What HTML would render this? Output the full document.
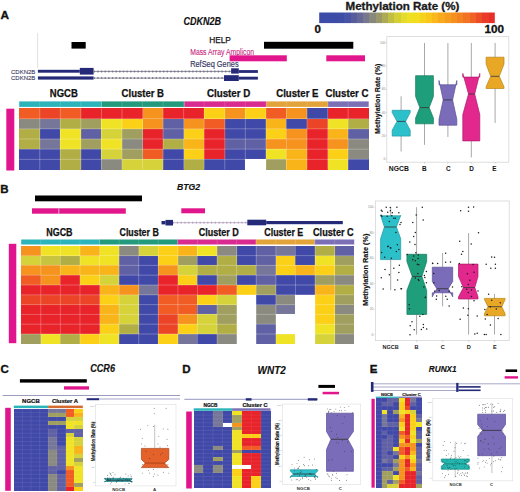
<!DOCTYPE html>
<html><head><meta charset="utf-8"><style>
html,body{margin:0;padding:0;background:#fff;}
svg{display:block;}
text{font-family:"Liberation Sans", sans-serif;}
</style></head><body>
<svg width="520" height="492" viewBox="0 0 520 492">
<rect width="520" height="492" fill="#fff"/>
<text x="0.5" y="19" font-size="11.8" font-weight="bold" font-style="normal" fill="#111" text-anchor="start" stroke="#111" stroke-width="0.35">A</text>
<text x="183.4" y="25.2" font-size="10.3" font-weight="bold" font-style="italic" fill="#111" text-anchor="start" textLength="37.6" lengthAdjust="spacingAndGlyphs" stroke="#111" stroke-width="0.15">CDKN2B</text>
<text x="345.5" y="9.5" font-size="10.2" font-weight="bold" font-style="normal" fill="#1a1a1a" text-anchor="start" textLength="113.8" lengthAdjust="spacingAndGlyphs" stroke="#1a1a1a" stroke-width="0.3">Methylation Rate (%)</text>
<defs><linearGradient id="cbar" x1="0" x2="1" y1="0" y2="0"><stop offset="0.0000" stop-color="#3b4ca8"/><stop offset="0.0357" stop-color="#3b4ca8"/><stop offset="0.0357" stop-color="#3c4da7"/><stop offset="0.0714" stop-color="#3c4da7"/><stop offset="0.0714" stop-color="#3d4da7"/><stop offset="0.1071" stop-color="#3d4da7"/><stop offset="0.1071" stop-color="#3e4ea6"/><stop offset="0.1429" stop-color="#3e4ea6"/><stop offset="0.1429" stop-color="#4753a3"/><stop offset="0.1786" stop-color="#4753a3"/><stop offset="0.1786" stop-color="#575c9d"/><stop offset="0.2143" stop-color="#575c9d"/><stop offset="0.2143" stop-color="#666898"/><stop offset="0.2500" stop-color="#666898"/><stop offset="0.2500" stop-color="#77778d"/><stop offset="0.2857" stop-color="#77778d"/><stop offset="0.2857" stop-color="#88887c"/><stop offset="0.3214" stop-color="#88887c"/><stop offset="0.3214" stop-color="#9a9868"/><stop offset="0.3571" stop-color="#9a9868"/><stop offset="0.3571" stop-color="#adaa55"/><stop offset="0.3929" stop-color="#adaa55"/><stop offset="0.3929" stop-color="#c1be45"/><stop offset="0.4286" stop-color="#c1be45"/><stop offset="0.4286" stop-color="#d4ce37"/><stop offset="0.4643" stop-color="#d4ce37"/><stop offset="0.4643" stop-color="#e4db2d"/><stop offset="0.5000" stop-color="#e4db2d"/><stop offset="0.5000" stop-color="#eee025"/><stop offset="0.5357" stop-color="#eee025"/><stop offset="0.5357" stop-color="#f3dd1f"/><stop offset="0.5714" stop-color="#f3dd1f"/><stop offset="0.5714" stop-color="#f7d21c"/><stop offset="0.6071" stop-color="#f7d21c"/><stop offset="0.6071" stop-color="#fac61a"/><stop offset="0.6429" stop-color="#fac61a"/><stop offset="0.6429" stop-color="#fab81b"/><stop offset="0.6786" stop-color="#fab81b"/><stop offset="0.6786" stop-color="#f9a91c"/><stop offset="0.7143" stop-color="#f9a91c"/><stop offset="0.7143" stop-color="#f79d1e"/><stop offset="0.7500" stop-color="#f79d1e"/><stop offset="0.7500" stop-color="#f5901f"/><stop offset="0.7857" stop-color="#f5901f"/><stop offset="0.7857" stop-color="#f38221"/><stop offset="0.8214" stop-color="#f38221"/><stop offset="0.8214" stop-color="#f17323"/><stop offset="0.8571" stop-color="#f17323"/><stop offset="0.8571" stop-color="#ef6125"/><stop offset="0.8929" stop-color="#ef6125"/><stop offset="0.8929" stop-color="#ec4d27"/><stop offset="0.9286" stop-color="#ec4d27"/><stop offset="0.9286" stop-color="#ea3a28"/><stop offset="0.9643" stop-color="#ea3a28"/><stop offset="0.9643" stop-color="#e92d29"/><stop offset="1.0000" stop-color="#e92d29"/></linearGradient></defs>
<rect x="319.2" y="12.5" width="175.6" height="10.6" fill="url(#cbar)"/>
<text x="314.6" y="33.4" font-size="10.4" font-weight="bold" font-style="normal" fill="#111" text-anchor="start" textLength="6.4" lengthAdjust="spacingAndGlyphs" stroke="#111" stroke-width="0.3">0</text>
<text x="484.6" y="33.4" font-size="10.4" font-weight="bold" font-style="normal" fill="#111" text-anchor="start" textLength="19.5" lengthAdjust="spacingAndGlyphs" stroke="#111" stroke-width="0.3">100</text>
<line x1="37.6" y1="33" x2="37.6" y2="68" stroke="#d8d8d8" stroke-width="0.8"/>
<rect x="71.50" y="42.00" width="14.20" height="6.60" fill="#000"/>
<text x="209.2" y="42.6" font-size="8.9" font-weight="normal" font-style="normal" fill="#111" text-anchor="start" textLength="21.6" lengthAdjust="spacingAndGlyphs" stroke="#111" stroke-width="0.25">HELP</text>
<rect x="264.00" y="41.80" width="89.30" height="6.90" fill="#000"/>
<text x="190.2" y="54.6" font-size="8.4" font-weight="normal" font-style="normal" fill="#c8287f" text-anchor="start" textLength="63.8" lengthAdjust="spacingAndGlyphs" stroke="#c8287f" stroke-width="0.12">Mass Array Amplicon</text>
<rect x="229.60" y="55.30" width="57.20" height="6.00" fill="#e2168c"/>
<rect x="326.30" y="55.30" width="38.70" height="6.00" fill="#e2168c"/>
<text x="190.2" y="67.4" font-size="8.6" font-weight="normal" font-style="normal" fill="#34345e" text-anchor="start" textLength="48.4" lengthAdjust="spacingAndGlyphs" stroke="#34345e" stroke-width="0.15">RefSeq Genes</text>
<text x="11" y="73.7" font-size="6.0" font-weight="normal" font-style="normal" fill="#3a3a62" text-anchor="start" textLength="24.3" lengthAdjust="spacingAndGlyphs" stroke="#3a3a62" stroke-width="0.12">CDKN2B</text>
<text x="11" y="80.1" font-size="6.0" font-weight="normal" font-style="normal" fill="#3a3a62" text-anchor="start" textLength="24.3" lengthAdjust="spacingAndGlyphs" stroke="#3a3a62" stroke-width="0.12">CDKN2B</text>
<rect x="37.90" y="69.80" width="41.90" height="2.90" fill="#252a78"/>
<rect x="79.80" y="67.90" width="13.80" height="6.70" fill="#252a78"/>
<line x1="93.6" y1="71.4" x2="231.1" y2="71.4" stroke="#8c8c9c" stroke-width="1.0"/>
<line x1="93.6" y1="71.4" x2="231.1" y2="71.4" stroke="#666678" stroke-width="2.0" stroke-dasharray="1.4,2.25" stroke-opacity="0.7"/>
<rect x="231.10" y="68.30" width="7.70" height="5.30" fill="#252a78"/>
<rect x="238.80" y="70.10" width="19.10" height="2.80" fill="#252a78"/>
<rect x="37.90" y="76.40" width="55.70" height="3.20" fill="#252a78"/>
<line x1="93.6" y1="78.1" x2="224" y2="78.1" stroke="#8c8c9c" stroke-width="1.0"/>
<line x1="93.6" y1="78.1" x2="224" y2="78.1" stroke="#666678" stroke-width="2.0" stroke-dasharray="1.4,2.25" stroke-opacity="0.7"/>
<rect x="224.00" y="75.20" width="14.80" height="5.80" fill="#252a78"/>
<rect x="238.80" y="76.70" width="19.10" height="2.90" fill="#252a78"/>
<text x="49.8" y="97.1" font-size="10" font-weight="bold" font-style="normal" fill="#111" text-anchor="start" textLength="28" lengthAdjust="spacingAndGlyphs" stroke="#111" stroke-width="0.25">NGCB</text>
<text x="121.6" y="97.1" font-size="10" font-weight="bold" font-style="normal" fill="#111" text-anchor="start" textLength="42.4" lengthAdjust="spacingAndGlyphs" stroke="#111" stroke-width="0.25">Cluster B</text>
<text x="206.9" y="97.1" font-size="10" font-weight="bold" font-style="normal" fill="#111" text-anchor="start" textLength="43.5" lengthAdjust="spacingAndGlyphs" stroke="#111" stroke-width="0.25">Cluster D</text>
<text x="276.2" y="97.1" font-size="10" font-weight="bold" font-style="normal" fill="#111" text-anchor="start" textLength="42.3" lengthAdjust="spacingAndGlyphs" stroke="#111" stroke-width="0.25">Cluster E</text>
<text x="325.4" y="97.1" font-size="10" font-weight="bold" font-style="normal" fill="#111" text-anchor="start" textLength="43.1" lengthAdjust="spacingAndGlyphs" stroke="#111" stroke-width="0.25">Cluster C</text>
<rect x="19.20" y="101.40" width="82.40" height="5.50" fill="#2bb4ba"/>
<rect x="101.60" y="101.40" width="82.90" height="5.50" fill="#229a7b"/>
<rect x="184.50" y="101.40" width="82.00" height="5.50" fill="#d92a8f"/>
<rect x="266.50" y="101.40" width="61.60" height="5.50" fill="#e2a43a"/>
<rect x="328.10" y="101.40" width="40.60" height="5.50" fill="#7b6fb6"/>
<line x1="39.76" y1="101.4" x2="39.76" y2="106.9" stroke="rgba(255,255,255,0.3)" stroke-width="0.5"/>
<line x1="60.32" y1="101.4" x2="60.32" y2="106.9" stroke="rgba(255,255,255,0.3)" stroke-width="0.5"/>
<line x1="80.88" y1="101.4" x2="80.88" y2="106.9" stroke="rgba(255,255,255,0.3)" stroke-width="0.5"/>
<line x1="101.44" y1="101.4" x2="101.44" y2="106.9" stroke="rgba(255,255,255,0.3)" stroke-width="0.5"/>
<line x1="121.99" y1="101.4" x2="121.99" y2="106.9" stroke="rgba(255,255,255,0.3)" stroke-width="0.5"/>
<line x1="142.55" y1="101.4" x2="142.55" y2="106.9" stroke="rgba(255,255,255,0.3)" stroke-width="0.5"/>
<line x1="163.11" y1="101.4" x2="163.11" y2="106.9" stroke="rgba(255,255,255,0.3)" stroke-width="0.5"/>
<line x1="183.67" y1="101.4" x2="183.67" y2="106.9" stroke="rgba(255,255,255,0.3)" stroke-width="0.5"/>
<line x1="204.23" y1="101.4" x2="204.23" y2="106.9" stroke="rgba(255,255,255,0.3)" stroke-width="0.5"/>
<line x1="224.79" y1="101.4" x2="224.79" y2="106.9" stroke="rgba(255,255,255,0.3)" stroke-width="0.5"/>
<line x1="245.35" y1="101.4" x2="245.35" y2="106.9" stroke="rgba(255,255,255,0.3)" stroke-width="0.5"/>
<line x1="265.91" y1="101.4" x2="265.91" y2="106.9" stroke="rgba(255,255,255,0.3)" stroke-width="0.5"/>
<line x1="286.46" y1="101.4" x2="286.46" y2="106.9" stroke="rgba(255,255,255,0.3)" stroke-width="0.5"/>
<line x1="307.02" y1="101.4" x2="307.02" y2="106.9" stroke="rgba(255,255,255,0.3)" stroke-width="0.5"/>
<line x1="327.58" y1="101.4" x2="327.58" y2="106.9" stroke="rgba(255,255,255,0.3)" stroke-width="0.5"/>
<line x1="348.14" y1="101.4" x2="348.14" y2="106.9" stroke="rgba(255,255,255,0.3)" stroke-width="0.5"/>
<rect x="6.30" y="108.70" width="8.00" height="61.80" fill="#e0148c"/>
<rect x="19.20" y="108.40" width="20.56" height="10.20" fill="#f15c24" shape-rendering="crispEdges"/>
<rect x="39.76" y="108.40" width="20.56" height="10.20" fill="#ec4427" shape-rendering="crispEdges"/>
<rect x="60.32" y="108.40" width="20.56" height="10.20" fill="#f15c24" shape-rendering="crispEdges"/>
<rect x="80.88" y="108.40" width="20.56" height="10.20" fill="#e8232a" shape-rendering="crispEdges"/>
<rect x="101.44" y="108.40" width="20.56" height="10.20" fill="#e8232a" shape-rendering="crispEdges"/>
<rect x="121.99" y="108.40" width="20.56" height="10.20" fill="#e8232a" shape-rendering="crispEdges"/>
<rect x="142.55" y="108.40" width="20.56" height="10.20" fill="#f6921e" shape-rendering="crispEdges"/>
<rect x="163.11" y="108.40" width="20.56" height="10.20" fill="#e8232a" shape-rendering="crispEdges"/>
<rect x="183.67" y="108.40" width="20.56" height="10.20" fill="#e8232a" shape-rendering="crispEdges"/>
<rect x="204.23" y="108.40" width="20.56" height="10.20" fill="#fbd016" shape-rendering="crispEdges"/>
<rect x="224.79" y="108.40" width="20.56" height="10.20" fill="#f6921e" shape-rendering="crispEdges"/>
<rect x="245.35" y="108.40" width="20.56" height="10.20" fill="#fbd016" shape-rendering="crispEdges"/>
<rect x="265.91" y="108.40" width="20.56" height="10.20" fill="#f15c24" shape-rendering="crispEdges"/>
<rect x="286.46" y="108.40" width="20.56" height="10.20" fill="#f6921e" shape-rendering="crispEdges"/>
<rect x="307.02" y="108.40" width="20.56" height="10.20" fill="#4149a8" shape-rendering="crispEdges"/>
<rect x="327.58" y="108.40" width="20.56" height="10.20" fill="#e8232a" shape-rendering="crispEdges"/>
<rect x="348.14" y="108.40" width="20.56" height="10.20" fill="#e8232a" shape-rendering="crispEdges"/>
<rect x="19.20" y="118.60" width="20.56" height="10.20" fill="#8a8a80" shape-rendering="crispEdges"/>
<rect x="39.76" y="118.60" width="20.56" height="10.20" fill="#76769a" shape-rendering="crispEdges"/>
<rect x="60.32" y="118.60" width="20.56" height="10.20" fill="#b2ae46" shape-rendering="crispEdges"/>
<rect x="80.88" y="118.60" width="20.56" height="10.20" fill="#a09f60" shape-rendering="crispEdges"/>
<rect x="101.44" y="118.60" width="20.56" height="10.20" fill="#f0e326" shape-rendering="crispEdges"/>
<rect x="121.99" y="118.60" width="20.56" height="10.20" fill="#fbd016" shape-rendering="crispEdges"/>
<rect x="142.55" y="118.60" width="20.56" height="10.20" fill="#f6921e" shape-rendering="crispEdges"/>
<rect x="163.11" y="118.60" width="20.56" height="10.20" fill="#6060a4" shape-rendering="crispEdges"/>
<rect x="183.67" y="118.60" width="20.56" height="10.20" fill="#f6921e" shape-rendering="crispEdges"/>
<rect x="204.23" y="118.60" width="20.56" height="10.20" fill="#f15c24" shape-rendering="crispEdges"/>
<rect x="224.79" y="118.60" width="20.56" height="10.20" fill="#4149a8" shape-rendering="crispEdges"/>
<rect x="245.35" y="118.60" width="20.56" height="10.20" fill="#4149a8" shape-rendering="crispEdges"/>
<rect x="265.91" y="118.60" width="20.56" height="10.20" fill="#f9b41a" shape-rendering="crispEdges"/>
<rect x="286.46" y="118.60" width="20.56" height="10.20" fill="#4149a8" shape-rendering="crispEdges"/>
<rect x="307.02" y="118.60" width="20.56" height="10.20" fill="#ec4427" shape-rendering="crispEdges"/>
<rect x="327.58" y="118.60" width="20.56" height="10.20" fill="#f0e326" shape-rendering="crispEdges"/>
<rect x="348.14" y="118.60" width="20.56" height="10.20" fill="#b2ae46" shape-rendering="crispEdges"/>
<rect x="19.20" y="128.80" width="20.56" height="10.20" fill="#b2ae46" shape-rendering="crispEdges"/>
<rect x="39.76" y="128.80" width="20.56" height="10.20" fill="#4149a8" shape-rendering="crispEdges"/>
<rect x="60.32" y="128.80" width="20.56" height="10.20" fill="#f0e326" shape-rendering="crispEdges"/>
<rect x="80.88" y="128.80" width="20.56" height="10.20" fill="#6060a4" shape-rendering="crispEdges"/>
<rect x="101.44" y="128.80" width="20.56" height="10.20" fill="#d6d23a" shape-rendering="crispEdges"/>
<rect x="121.99" y="128.80" width="20.56" height="10.20" fill="#a09f60" shape-rendering="crispEdges"/>
<rect x="142.55" y="128.80" width="20.56" height="10.20" fill="#e8232a" shape-rendering="crispEdges"/>
<rect x="163.11" y="128.80" width="20.56" height="10.20" fill="#6060a4" shape-rendering="crispEdges"/>
<rect x="183.67" y="128.80" width="20.56" height="10.20" fill="#fbd016" shape-rendering="crispEdges"/>
<rect x="204.23" y="128.80" width="20.56" height="10.20" fill="#e8232a" shape-rendering="crispEdges"/>
<rect x="224.79" y="128.80" width="20.56" height="10.20" fill="#4149a8" shape-rendering="crispEdges"/>
<rect x="245.35" y="128.80" width="20.56" height="10.20" fill="#4149a8" shape-rendering="crispEdges"/>
<rect x="265.91" y="128.80" width="20.56" height="10.20" fill="#fbd016" shape-rendering="crispEdges"/>
<rect x="286.46" y="128.80" width="20.56" height="10.20" fill="#f6921e" shape-rendering="crispEdges"/>
<rect x="307.02" y="128.80" width="20.56" height="10.20" fill="#e8232a" shape-rendering="crispEdges"/>
<rect x="327.58" y="128.80" width="20.56" height="10.20" fill="#f9b41a" shape-rendering="crispEdges"/>
<rect x="348.14" y="128.80" width="20.56" height="10.20" fill="#6060a4" shape-rendering="crispEdges"/>
<rect x="19.20" y="139.00" width="20.56" height="10.20" fill="#b2ae46" shape-rendering="crispEdges"/>
<rect x="39.76" y="139.00" width="20.56" height="10.20" fill="#76769a" shape-rendering="crispEdges"/>
<rect x="60.32" y="139.00" width="20.56" height="10.20" fill="#f0e326" shape-rendering="crispEdges"/>
<rect x="80.88" y="139.00" width="20.56" height="10.20" fill="#a09f60" shape-rendering="crispEdges"/>
<rect x="101.44" y="139.00" width="20.56" height="10.20" fill="#f0e326" shape-rendering="crispEdges"/>
<rect x="121.99" y="139.00" width="20.56" height="10.20" fill="#8a8a80" shape-rendering="crispEdges"/>
<rect x="142.55" y="139.00" width="20.56" height="10.20" fill="#e8232a" shape-rendering="crispEdges"/>
<rect x="163.11" y="139.00" width="20.56" height="10.20" fill="#b2ae46" shape-rendering="crispEdges"/>
<rect x="183.67" y="139.00" width="20.56" height="10.20" fill="#f9b41a" shape-rendering="crispEdges"/>
<rect x="204.23" y="139.00" width="20.56" height="10.20" fill="#e8232a" shape-rendering="crispEdges"/>
<rect x="224.79" y="139.00" width="20.56" height="10.20" fill="#6060a4" shape-rendering="crispEdges"/>
<rect x="245.35" y="139.00" width="20.56" height="10.20" fill="#6060a4" shape-rendering="crispEdges"/>
<rect x="265.91" y="139.00" width="20.56" height="10.20" fill="#f6921e" shape-rendering="crispEdges"/>
<rect x="286.46" y="139.00" width="20.56" height="10.20" fill="#f6921e" shape-rendering="crispEdges"/>
<rect x="307.02" y="139.00" width="20.56" height="10.20" fill="#e8232a" shape-rendering="crispEdges"/>
<rect x="327.58" y="139.00" width="20.56" height="10.20" fill="#f6921e" shape-rendering="crispEdges"/>
<rect x="348.14" y="139.00" width="20.56" height="10.20" fill="#8a8a80" shape-rendering="crispEdges"/>
<rect x="19.20" y="149.20" width="20.56" height="10.20" fill="#4149a8" shape-rendering="crispEdges"/>
<rect x="39.76" y="149.20" width="20.56" height="10.20" fill="#4149a8" shape-rendering="crispEdges"/>
<rect x="60.32" y="149.20" width="20.56" height="10.20" fill="#b2ae46" shape-rendering="crispEdges"/>
<rect x="80.88" y="149.20" width="20.56" height="10.20" fill="#4149a8" shape-rendering="crispEdges"/>
<rect x="101.44" y="149.20" width="20.56" height="10.20" fill="#d6d23a" shape-rendering="crispEdges"/>
<rect x="121.99" y="149.20" width="20.56" height="10.20" fill="#a09f60" shape-rendering="crispEdges"/>
<rect x="142.55" y="149.20" width="20.56" height="10.20" fill="#f15c24" shape-rendering="crispEdges"/>
<rect x="163.11" y="149.20" width="20.56" height="10.20" fill="#4149a8" shape-rendering="crispEdges"/>
<rect x="183.67" y="149.20" width="20.56" height="10.20" fill="#fbd016" shape-rendering="crispEdges"/>
<rect x="204.23" y="149.20" width="20.56" height="10.20" fill="#e8232a" shape-rendering="crispEdges"/>
<rect x="224.79" y="149.20" width="20.56" height="10.20" fill="#4149a8" shape-rendering="crispEdges"/>
<rect x="245.35" y="149.20" width="20.56" height="10.20" fill="#4149a8" shape-rendering="crispEdges"/>
<rect x="265.91" y="149.20" width="20.56" height="10.20" fill="#f0e326" shape-rendering="crispEdges"/>
<rect x="286.46" y="149.20" width="20.56" height="10.20" fill="#f9b41a" shape-rendering="crispEdges"/>
<rect x="307.02" y="149.20" width="20.56" height="10.20" fill="#e8232a" shape-rendering="crispEdges"/>
<rect x="327.58" y="149.20" width="20.56" height="10.20" fill="#fbd016" shape-rendering="crispEdges"/>
<rect x="348.14" y="149.20" width="20.56" height="10.20" fill="#8a8a80" shape-rendering="crispEdges"/>
<rect x="19.20" y="159.40" width="20.56" height="10.20" fill="#4149a8" shape-rendering="crispEdges"/>
<rect x="39.76" y="159.40" width="20.56" height="10.20" fill="#4149a8" shape-rendering="crispEdges"/>
<rect x="60.32" y="159.40" width="20.56" height="10.20" fill="#b2ae46" shape-rendering="crispEdges"/>
<rect x="80.88" y="159.40" width="20.56" height="10.20" fill="#4149a8" shape-rendering="crispEdges"/>
<rect x="101.44" y="159.40" width="20.56" height="10.20" fill="#8a8a80" shape-rendering="crispEdges"/>
<rect x="121.99" y="159.40" width="20.56" height="10.20" fill="#d6d23a" shape-rendering="crispEdges"/>
<rect x="142.55" y="159.40" width="20.56" height="10.20" fill="#d6d23a" shape-rendering="crispEdges"/>
<rect x="163.11" y="159.40" width="20.56" height="10.20" fill="#4149a8" shape-rendering="crispEdges"/>
<rect x="183.67" y="159.40" width="20.56" height="10.20" fill="#b2ae46" shape-rendering="crispEdges"/>
<rect x="204.23" y="159.40" width="20.56" height="10.20" fill="#4149a8" shape-rendering="crispEdges"/>
<rect x="224.79" y="159.40" width="20.56" height="10.20" fill="#4149a8" shape-rendering="crispEdges"/>
<rect x="245.35" y="159.40" width="20.56" height="10.20" fill="#ffffff" shape-rendering="crispEdges"/>
<rect x="265.91" y="159.40" width="20.56" height="10.20" fill="#a09f60" shape-rendering="crispEdges"/>
<rect x="286.46" y="159.40" width="20.56" height="10.20" fill="#f9b41a" shape-rendering="crispEdges"/>
<rect x="307.02" y="159.40" width="20.56" height="10.20" fill="#e8232a" shape-rendering="crispEdges"/>
<rect x="327.58" y="159.40" width="20.56" height="10.20" fill="#f0e326" shape-rendering="crispEdges"/>
<rect x="348.14" y="159.40" width="20.56" height="10.20" fill="#4149a8" shape-rendering="crispEdges"/>
<line x1="39.76" y1="108.4" x2="39.76" y2="169.6" stroke="rgba(255,255,255,0.45)" stroke-width="0.6"/>
<line x1="60.32" y1="108.4" x2="60.32" y2="169.6" stroke="rgba(255,255,255,0.45)" stroke-width="0.6"/>
<line x1="80.88" y1="108.4" x2="80.88" y2="169.6" stroke="rgba(255,255,255,0.45)" stroke-width="0.6"/>
<line x1="101.44" y1="108.4" x2="101.44" y2="169.6" stroke="rgba(255,255,255,0.45)" stroke-width="0.6"/>
<line x1="121.99" y1="108.4" x2="121.99" y2="169.6" stroke="rgba(255,255,255,0.45)" stroke-width="0.6"/>
<line x1="142.55" y1="108.4" x2="142.55" y2="169.6" stroke="rgba(255,255,255,0.45)" stroke-width="0.6"/>
<line x1="163.11" y1="108.4" x2="163.11" y2="169.6" stroke="rgba(255,255,255,0.45)" stroke-width="0.6"/>
<line x1="183.67" y1="108.4" x2="183.67" y2="169.6" stroke="rgba(255,255,255,0.45)" stroke-width="0.6"/>
<line x1="204.23" y1="108.4" x2="204.23" y2="169.6" stroke="rgba(255,255,255,0.45)" stroke-width="0.6"/>
<line x1="224.79" y1="108.4" x2="224.79" y2="169.6" stroke="rgba(255,255,255,0.45)" stroke-width="0.6"/>
<line x1="245.35" y1="108.4" x2="245.35" y2="169.6" stroke="rgba(255,255,255,0.45)" stroke-width="0.6"/>
<line x1="265.91" y1="108.4" x2="265.91" y2="169.6" stroke="rgba(255,255,255,0.45)" stroke-width="0.6"/>
<line x1="286.46" y1="108.4" x2="286.46" y2="169.6" stroke="rgba(255,255,255,0.45)" stroke-width="0.6"/>
<line x1="307.02" y1="108.4" x2="307.02" y2="169.6" stroke="rgba(255,255,255,0.45)" stroke-width="0.6"/>
<line x1="327.58" y1="108.4" x2="327.58" y2="169.6" stroke="rgba(255,255,255,0.45)" stroke-width="0.6"/>
<line x1="348.14" y1="108.4" x2="348.14" y2="169.6" stroke="rgba(255,255,255,0.45)" stroke-width="0.6"/>
<line x1="19.2" y1="118.6" x2="368.7" y2="118.6" stroke="rgba(255,255,255,0.45)" stroke-width="0.6"/>
<line x1="19.2" y1="128.8" x2="368.7" y2="128.8" stroke="rgba(255,255,255,0.45)" stroke-width="0.6"/>
<line x1="19.2" y1="139.0" x2="368.7" y2="139.0" stroke="rgba(255,255,255,0.45)" stroke-width="0.6"/>
<line x1="19.2" y1="149.2" x2="368.7" y2="149.2" stroke="rgba(255,255,255,0.45)" stroke-width="0.6"/>
<line x1="19.2" y1="159.4" x2="368.7" y2="159.4" stroke="rgba(255,255,255,0.45)" stroke-width="0.6"/>
<rect x="386.8" y="36.6" width="122" height="125.6" fill="none" stroke="#d6d6d6" stroke-width="0.8"/>
<text x="385.3" y="160.1" font-size="3.2" font-weight="normal" font-style="normal" fill="#888" text-anchor="end">0</text>
<line x1="385.6" y1="159.0" x2="386.8" y2="159.0" stroke="#bbb" stroke-width="0.5"/>
<text x="385.3" y="136.85999999999999" font-size="3.2" font-weight="normal" font-style="normal" fill="#888" text-anchor="end">20</text>
<line x1="385.6" y1="135.76" x2="386.8" y2="135.76" stroke="#bbb" stroke-width="0.5"/>
<text x="385.3" y="113.62" font-size="3.2" font-weight="normal" font-style="normal" fill="#888" text-anchor="end">40</text>
<line x1="385.6" y1="112.52000000000001" x2="386.8" y2="112.52000000000001" stroke="#bbb" stroke-width="0.5"/>
<text x="385.3" y="90.38" font-size="3.2" font-weight="normal" font-style="normal" fill="#888" text-anchor="end">60</text>
<line x1="385.6" y1="89.28" x2="386.8" y2="89.28" stroke="#bbb" stroke-width="0.5"/>
<text x="385.3" y="67.14" font-size="3.2" font-weight="normal" font-style="normal" fill="#888" text-anchor="end">80</text>
<line x1="385.6" y1="66.04" x2="386.8" y2="66.04" stroke="#bbb" stroke-width="0.5"/>
<text x="385.3" y="43.90000000000001" font-size="3.2" font-weight="normal" font-style="normal" fill="#888" text-anchor="end">100</text>
<line x1="385.6" y1="42.80000000000001" x2="386.8" y2="42.80000000000001" stroke="#bbb" stroke-width="0.5"/>
<text x="380.4" y="134.0" font-size="6.8" font-weight="bold" font-style="normal" fill="#111" text-anchor="start" textLength="70.5" lengthAdjust="spacingAndGlyphs" transform="rotate(-90 380.4 134.0)" stroke="#111" stroke-width="0.15">Methylation Rate (%)</text>
<text x="398.8" y="170.6" font-size="6.4" font-weight="bold" font-style="normal" fill="#111" text-anchor="middle" textLength="20" lengthAdjust="spacingAndGlyphs">NGCB</text>
<text x="424.4" y="170.6" font-size="6.4" font-weight="bold" font-style="normal" fill="#111" text-anchor="middle">B</text>
<text x="448.3" y="170.6" font-size="6.4" font-weight="bold" font-style="normal" fill="#111" text-anchor="middle">C</text>
<text x="471.6" y="170.6" font-size="6.4" font-weight="bold" font-style="normal" fill="#111" text-anchor="middle">D</text>
<text x="494.5" y="170.6" font-size="6.4" font-weight="bold" font-style="normal" fill="#111" text-anchor="middle">E</text>
<line x1="401.1" y1="162.2" x2="401.1" y2="163.6" stroke="#aaa" stroke-width="0.5"/>
<line x1="424.5" y1="162.2" x2="424.5" y2="163.6" stroke="#aaa" stroke-width="0.5"/>
<line x1="447.9" y1="162.2" x2="447.9" y2="163.6" stroke="#aaa" stroke-width="0.5"/>
<line x1="471.3" y1="162.2" x2="471.3" y2="163.6" stroke="#aaa" stroke-width="0.5"/>
<line x1="495.1" y1="162.2" x2="495.1" y2="163.6" stroke="#aaa" stroke-width="0.5"/>
<line x1="401.1" y1="96.3" x2="401.1" y2="151.5" stroke="#a8a8a8" stroke-width="1"/>
<line x1="424.5" y1="43" x2="424.5" y2="144.8" stroke="#a8a8a8" stroke-width="1"/>
<line x1="447.9" y1="43" x2="447.9" y2="137" stroke="#a8a8a8" stroke-width="1"/>
<line x1="471.3" y1="43" x2="471.3" y2="157.4" stroke="#a8a8a8" stroke-width="1"/>
<line x1="495.1" y1="43" x2="495.1" y2="123" stroke="#a8a8a8" stroke-width="1"/>
<polygon points="392.20,110.30 392.20,112.60 397.00,121.40 392.20,130.20 392.20,136.10 410.20,136.10 410.20,130.20 405.60,121.40 410.20,112.60 410.20,110.30" fill="#2cc0ca" stroke="#1f9aa3" stroke-width="0.7"/>
<line x1="397.0" y1="121.4" x2="405.6" y2="121.4" stroke="#333" stroke-width="0.8"/>
<polygon points="415.60,75.70 415.60,96.50 419.80,107.60 415.60,118.00 415.60,123.80 433.40,123.80 433.40,118.00 429.20,107.60 433.40,96.50 433.40,75.70" fill="#1f9e7c" stroke="#167a5e" stroke-width="0.7"/>
<line x1="419.8" y1="107.6" x2="429.2" y2="107.6" stroke="#333" stroke-width="0.8"/>
<polygon points="439.00,84.80 439.00,80.50 443.20,99.90 439.00,119.30 439.00,125.20 456.80,125.20 456.80,119.30 452.60,99.90 456.80,80.50 456.80,84.80" fill="#7a6cb9" stroke="#5b4f98" stroke-width="0.7"/>
<line x1="443.2" y1="99.9" x2="452.6" y2="99.9" stroke="#333" stroke-width="0.8"/>
<polygon points="462.80,77.10 462.80,73.40 468.50,94.00 462.80,114.60 462.80,140.90 479.80,140.90 479.80,114.60 474.70,94.00 479.80,73.40 479.80,77.10" fill="#e2278d" stroke="#b01a6c" stroke-width="0.7"/>
<line x1="468.5" y1="94.0" x2="474.7" y2="94.0" stroke="#333" stroke-width="0.8"/>
<polygon points="486.10,57.20 486.10,64.00 490.70,76.30 486.10,86.80 486.10,88.50 504.00,88.50 504.00,86.80 499.30,76.30 504.00,64.00 504.00,57.20" fill="#e9a726" stroke="#b88414" stroke-width="0.7"/>
<line x1="490.7" y1="76.3" x2="499.3" y2="76.3" stroke="#333" stroke-width="0.8"/>
<text x="0.3" y="192.5" font-size="11.5" font-weight="bold" font-style="normal" fill="#111" text-anchor="start" stroke="#111" stroke-width="0.35">B</text>
<text x="177.0" y="189.9" font-size="9.6" font-weight="bold" font-style="italic" fill="#111" text-anchor="start" textLength="23.2" lengthAdjust="spacingAndGlyphs" stroke="#111" stroke-width="0.15">BTG2</text>
<rect x="35.00" y="195.50" width="107.00" height="5.80" fill="#000"/>
<rect x="32.00" y="208.30" width="93.80" height="5.40" fill="#e2168c"/>
<line x1="58.8" y1="208.3" x2="58.8" y2="213.7" stroke="#fff" stroke-width="0.6"/>
<rect x="181.30" y="208.30" width="23.70" height="5.00" fill="#e2168c"/>
<line x1="173" y1="222.7" x2="247.5" y2="222.7" stroke="#c0b0c8" stroke-width="0.9"/>
<line x1="173" y1="222.7" x2="247.5" y2="222.7" stroke="#9a88a8" stroke-width="1.8" stroke-dasharray="1.2,2.6" stroke-opacity="0.7"/>
<rect x="161.50" y="221.00" width="4.00" height="3.40" fill="#252a78"/>
<rect x="165.50" y="219.90" width="7.50" height="5.60" fill="#252a78"/>
<rect x="247.30" y="219.70" width="18.90" height="5.60" fill="#252a78"/>
<rect x="266.20" y="221.00" width="76.60" height="3.20" fill="#252a78"/>
<text x="46.25" y="236.3" font-size="10" font-weight="bold" font-style="normal" fill="#111" text-anchor="start" textLength="26.3" lengthAdjust="spacingAndGlyphs" stroke="#111" stroke-width="0.25">NGCB</text>
<text x="119.5" y="236.3" font-size="10" font-weight="bold" font-style="normal" fill="#111" text-anchor="start" textLength="39.3" lengthAdjust="spacingAndGlyphs" stroke="#111" stroke-width="0.25">Cluster B</text>
<text x="198.75" y="236.3" font-size="10" font-weight="bold" font-style="normal" fill="#111" text-anchor="start" textLength="40" lengthAdjust="spacingAndGlyphs" stroke="#111" stroke-width="0.25">Cluster D</text>
<text x="264.25" y="236.3" font-size="10" font-weight="bold" font-style="normal" fill="#111" text-anchor="start" textLength="39" lengthAdjust="spacingAndGlyphs" stroke="#111" stroke-width="0.25">Cluster E</text>
<text x="313" y="236.3" font-size="10" font-weight="bold" font-style="normal" fill="#111" text-anchor="start" textLength="40.7" lengthAdjust="spacingAndGlyphs" stroke="#111" stroke-width="0.25">Cluster C</text>
<rect x="21.20" y="239.50" width="78.60" height="5.00" fill="#2bb4ba"/>
<rect x="99.80" y="239.50" width="77.90" height="5.00" fill="#229a7b"/>
<rect x="177.70" y="239.50" width="78.20" height="5.00" fill="#d92a8f"/>
<rect x="255.90" y="239.50" width="58.80" height="5.00" fill="#e2a43a"/>
<rect x="314.70" y="239.50" width="39.50" height="5.00" fill="#7b6fb6"/>
<line x1="40.79" y1="239.5" x2="40.79" y2="244.5" stroke="rgba(255,255,255,0.3)" stroke-width="0.5"/>
<line x1="60.38" y1="239.5" x2="60.38" y2="244.5" stroke="rgba(255,255,255,0.3)" stroke-width="0.5"/>
<line x1="79.96" y1="239.5" x2="79.96" y2="244.5" stroke="rgba(255,255,255,0.3)" stroke-width="0.5"/>
<line x1="99.55" y1="239.5" x2="99.55" y2="244.5" stroke="rgba(255,255,255,0.3)" stroke-width="0.5"/>
<line x1="119.14" y1="239.5" x2="119.14" y2="244.5" stroke="rgba(255,255,255,0.3)" stroke-width="0.5"/>
<line x1="138.73" y1="239.5" x2="138.73" y2="244.5" stroke="rgba(255,255,255,0.3)" stroke-width="0.5"/>
<line x1="158.32" y1="239.5" x2="158.32" y2="244.5" stroke="rgba(255,255,255,0.3)" stroke-width="0.5"/>
<line x1="177.91" y1="239.5" x2="177.91" y2="244.5" stroke="rgba(255,255,255,0.3)" stroke-width="0.5"/>
<line x1="197.49" y1="239.5" x2="197.49" y2="244.5" stroke="rgba(255,255,255,0.3)" stroke-width="0.5"/>
<line x1="217.08" y1="239.5" x2="217.08" y2="244.5" stroke="rgba(255,255,255,0.3)" stroke-width="0.5"/>
<line x1="236.67" y1="239.5" x2="236.67" y2="244.5" stroke="rgba(255,255,255,0.3)" stroke-width="0.5"/>
<line x1="256.26" y1="239.5" x2="256.26" y2="244.5" stroke="rgba(255,255,255,0.3)" stroke-width="0.5"/>
<line x1="275.85" y1="239.5" x2="275.85" y2="244.5" stroke="rgba(255,255,255,0.3)" stroke-width="0.5"/>
<line x1="295.44" y1="239.5" x2="295.44" y2="244.5" stroke="rgba(255,255,255,0.3)" stroke-width="0.5"/>
<line x1="315.02" y1="239.5" x2="315.02" y2="244.5" stroke="rgba(255,255,255,0.3)" stroke-width="0.5"/>
<line x1="334.61" y1="239.5" x2="334.61" y2="244.5" stroke="rgba(255,255,255,0.3)" stroke-width="0.5"/>
<rect x="8.80" y="243.80" width="7.50" height="99.40" fill="#e0148c"/>
<rect x="21.20" y="245.80" width="19.59" height="9.80" fill="#f6921e" shape-rendering="crispEdges"/>
<rect x="40.79" y="245.80" width="19.59" height="9.80" fill="#f0e326" shape-rendering="crispEdges"/>
<rect x="60.38" y="245.80" width="19.59" height="9.80" fill="#f0e326" shape-rendering="crispEdges"/>
<rect x="79.96" y="245.80" width="19.59" height="9.80" fill="#f9b41a" shape-rendering="crispEdges"/>
<rect x="99.55" y="245.80" width="19.59" height="9.80" fill="#f0e326" shape-rendering="crispEdges"/>
<rect x="119.14" y="245.80" width="19.59" height="9.80" fill="#8a8a80" shape-rendering="crispEdges"/>
<rect x="138.73" y="245.80" width="19.59" height="9.80" fill="#d6d23a" shape-rendering="crispEdges"/>
<rect x="158.32" y="245.80" width="19.59" height="9.80" fill="#fbd016" shape-rendering="crispEdges"/>
<rect x="177.91" y="245.80" width="19.59" height="9.80" fill="#f9b41a" shape-rendering="crispEdges"/>
<rect x="197.49" y="245.80" width="19.59" height="9.80" fill="#f0e326" shape-rendering="crispEdges"/>
<rect x="217.08" y="245.80" width="19.59" height="9.80" fill="#8a8a80" shape-rendering="crispEdges"/>
<rect x="236.67" y="245.80" width="19.59" height="9.80" fill="#4149a8" shape-rendering="crispEdges"/>
<rect x="256.26" y="245.80" width="19.59" height="9.80" fill="#6060a4" shape-rendering="crispEdges"/>
<rect x="275.85" y="245.80" width="19.59" height="9.80" fill="#76769a" shape-rendering="crispEdges"/>
<rect x="295.44" y="245.80" width="19.59" height="9.80" fill="#4149a8" shape-rendering="crispEdges"/>
<rect x="315.02" y="245.80" width="19.59" height="9.80" fill="#b2ae46" shape-rendering="crispEdges"/>
<rect x="334.61" y="245.80" width="19.59" height="9.80" fill="#6060a4" shape-rendering="crispEdges"/>
<rect x="21.20" y="255.60" width="19.59" height="9.80" fill="#d6d23a" shape-rendering="crispEdges"/>
<rect x="40.79" y="255.60" width="19.59" height="9.80" fill="#c8c440" shape-rendering="crispEdges"/>
<rect x="60.38" y="255.60" width="19.59" height="9.80" fill="#b2ae46" shape-rendering="crispEdges"/>
<rect x="79.96" y="255.60" width="19.59" height="9.80" fill="#f0e326" shape-rendering="crispEdges"/>
<rect x="99.55" y="255.60" width="19.59" height="9.80" fill="#f0e326" shape-rendering="crispEdges"/>
<rect x="119.14" y="255.60" width="19.59" height="9.80" fill="#6060a4" shape-rendering="crispEdges"/>
<rect x="138.73" y="255.60" width="19.59" height="9.80" fill="#4149a8" shape-rendering="crispEdges"/>
<rect x="158.32" y="255.60" width="19.59" height="9.80" fill="#fbd016" shape-rendering="crispEdges"/>
<rect x="177.91" y="255.60" width="19.59" height="9.80" fill="#a09f60" shape-rendering="crispEdges"/>
<rect x="197.49" y="255.60" width="19.59" height="9.80" fill="#4149a8" shape-rendering="crispEdges"/>
<rect x="217.08" y="255.60" width="19.59" height="9.80" fill="#b2ae46" shape-rendering="crispEdges"/>
<rect x="236.67" y="255.60" width="19.59" height="9.80" fill="#4149a8" shape-rendering="crispEdges"/>
<rect x="256.26" y="255.60" width="19.59" height="9.80" fill="#6060a4" shape-rendering="crispEdges"/>
<rect x="275.85" y="255.60" width="19.59" height="9.80" fill="#fbd016" shape-rendering="crispEdges"/>
<rect x="295.44" y="255.60" width="19.59" height="9.80" fill="#4149a8" shape-rendering="crispEdges"/>
<rect x="315.02" y="255.60" width="19.59" height="9.80" fill="#f0e326" shape-rendering="crispEdges"/>
<rect x="334.61" y="255.60" width="19.59" height="9.80" fill="#a09f60" shape-rendering="crispEdges"/>
<rect x="21.20" y="265.40" width="19.59" height="9.80" fill="#f6921e" shape-rendering="crispEdges"/>
<rect x="40.79" y="265.40" width="19.59" height="9.80" fill="#f6921e" shape-rendering="crispEdges"/>
<rect x="60.38" y="265.40" width="19.59" height="9.80" fill="#f9b41a" shape-rendering="crispEdges"/>
<rect x="79.96" y="265.40" width="19.59" height="9.80" fill="#f9b41a" shape-rendering="crispEdges"/>
<rect x="99.55" y="265.40" width="19.59" height="9.80" fill="#f9b41a" shape-rendering="crispEdges"/>
<rect x="119.14" y="265.40" width="19.59" height="9.80" fill="#6060a4" shape-rendering="crispEdges"/>
<rect x="138.73" y="265.40" width="19.59" height="9.80" fill="#4149a8" shape-rendering="crispEdges"/>
<rect x="158.32" y="265.40" width="19.59" height="9.80" fill="#f6921e" shape-rendering="crispEdges"/>
<rect x="177.91" y="265.40" width="19.59" height="9.80" fill="#d6d23a" shape-rendering="crispEdges"/>
<rect x="197.49" y="265.40" width="19.59" height="9.80" fill="#b2ae46" shape-rendering="crispEdges"/>
<rect x="217.08" y="265.40" width="19.59" height="9.80" fill="#b2ae46" shape-rendering="crispEdges"/>
<rect x="236.67" y="265.40" width="19.59" height="9.80" fill="#b2ae46" shape-rendering="crispEdges"/>
<rect x="256.26" y="265.40" width="19.59" height="9.80" fill="#76769a" shape-rendering="crispEdges"/>
<rect x="275.85" y="265.40" width="19.59" height="9.80" fill="#fbd016" shape-rendering="crispEdges"/>
<rect x="295.44" y="265.40" width="19.59" height="9.80" fill="#f9b41a" shape-rendering="crispEdges"/>
<rect x="315.02" y="265.40" width="19.59" height="9.80" fill="#fbd016" shape-rendering="crispEdges"/>
<rect x="334.61" y="265.40" width="19.59" height="9.80" fill="#b2ae46" shape-rendering="crispEdges"/>
<rect x="21.20" y="275.20" width="19.59" height="9.80" fill="#f15c24" shape-rendering="crispEdges"/>
<rect x="40.79" y="275.20" width="19.59" height="9.80" fill="#f6921e" shape-rendering="crispEdges"/>
<rect x="60.38" y="275.20" width="19.59" height="9.80" fill="#e8232a" shape-rendering="crispEdges"/>
<rect x="79.96" y="275.20" width="19.59" height="9.80" fill="#fbd016" shape-rendering="crispEdges"/>
<rect x="99.55" y="275.20" width="19.59" height="9.80" fill="#d6d23a" shape-rendering="crispEdges"/>
<rect x="119.14" y="275.20" width="19.59" height="9.80" fill="#4149a8" shape-rendering="crispEdges"/>
<rect x="138.73" y="275.20" width="19.59" height="9.80" fill="#4149a8" shape-rendering="crispEdges"/>
<rect x="158.32" y="275.20" width="19.59" height="9.80" fill="#e8232a" shape-rendering="crispEdges"/>
<rect x="177.91" y="275.20" width="19.59" height="9.80" fill="#fbd016" shape-rendering="crispEdges"/>
<rect x="197.49" y="275.20" width="19.59" height="9.80" fill="#4149a8" shape-rendering="crispEdges"/>
<rect x="217.08" y="275.20" width="19.59" height="9.80" fill="#a09f60" shape-rendering="crispEdges"/>
<rect x="236.67" y="275.20" width="19.59" height="9.80" fill="#4149a8" shape-rendering="crispEdges"/>
<rect x="256.26" y="275.20" width="19.59" height="9.80" fill="#6060a4" shape-rendering="crispEdges"/>
<rect x="275.85" y="275.20" width="19.59" height="9.80" fill="#4149a8" shape-rendering="crispEdges"/>
<rect x="295.44" y="275.20" width="19.59" height="9.80" fill="#4149a8" shape-rendering="crispEdges"/>
<rect x="315.02" y="275.20" width="19.59" height="9.80" fill="#a09f60" shape-rendering="crispEdges"/>
<rect x="334.61" y="275.20" width="19.59" height="9.80" fill="#8a8a80" shape-rendering="crispEdges"/>
<rect x="21.20" y="285.00" width="19.59" height="9.80" fill="#e8232a" shape-rendering="crispEdges"/>
<rect x="40.79" y="285.00" width="19.59" height="9.80" fill="#e8232a" shape-rendering="crispEdges"/>
<rect x="60.38" y="285.00" width="19.59" height="9.80" fill="#e8232a" shape-rendering="crispEdges"/>
<rect x="79.96" y="285.00" width="19.59" height="9.80" fill="#e8232a" shape-rendering="crispEdges"/>
<rect x="99.55" y="285.00" width="19.59" height="9.80" fill="#f9b41a" shape-rendering="crispEdges"/>
<rect x="119.14" y="285.00" width="19.59" height="9.80" fill="#f6921e" shape-rendering="crispEdges"/>
<rect x="138.73" y="285.00" width="19.59" height="9.80" fill="#76769a" shape-rendering="crispEdges"/>
<rect x="158.32" y="285.00" width="19.59" height="9.80" fill="#e8232a" shape-rendering="crispEdges"/>
<rect x="177.91" y="285.00" width="19.59" height="9.80" fill="#e8232a" shape-rendering="crispEdges"/>
<rect x="197.49" y="285.00" width="19.59" height="9.80" fill="#e8232a" shape-rendering="crispEdges"/>
<rect x="217.08" y="285.00" width="19.59" height="9.80" fill="#f15c24" shape-rendering="crispEdges"/>
<rect x="236.67" y="285.00" width="19.59" height="9.80" fill="#fbd016" shape-rendering="crispEdges"/>
<rect x="256.26" y="285.00" width="19.59" height="9.80" fill="#a09f60" shape-rendering="crispEdges"/>
<rect x="275.85" y="285.00" width="19.59" height="9.80" fill="#4149a8" shape-rendering="crispEdges"/>
<rect x="295.44" y="285.00" width="19.59" height="9.80" fill="#4149a8" shape-rendering="crispEdges"/>
<rect x="315.02" y="285.00" width="19.59" height="9.80" fill="#f9b41a" shape-rendering="crispEdges"/>
<rect x="334.61" y="285.00" width="19.59" height="9.80" fill="#b2ae46" shape-rendering="crispEdges"/>
<rect x="21.20" y="294.80" width="19.59" height="9.80" fill="#ec4427" shape-rendering="crispEdges"/>
<rect x="40.79" y="294.80" width="19.59" height="9.80" fill="#ec4427" shape-rendering="crispEdges"/>
<rect x="60.38" y="294.80" width="19.59" height="9.80" fill="#ec4427" shape-rendering="crispEdges"/>
<rect x="79.96" y="294.80" width="19.59" height="9.80" fill="#ec4427" shape-rendering="crispEdges"/>
<rect x="99.55" y="294.80" width="19.59" height="9.80" fill="#fbd016" shape-rendering="crispEdges"/>
<rect x="119.14" y="294.80" width="19.59" height="9.80" fill="#d6d23a" shape-rendering="crispEdges"/>
<rect x="138.73" y="294.80" width="19.59" height="9.80" fill="#4149a8" shape-rendering="crispEdges"/>
<rect x="158.32" y="294.80" width="19.59" height="9.80" fill="#f15c24" shape-rendering="crispEdges"/>
<rect x="177.91" y="294.80" width="19.59" height="9.80" fill="#f15c24" shape-rendering="crispEdges"/>
<rect x="197.49" y="294.80" width="19.59" height="9.80" fill="#fbd016" shape-rendering="crispEdges"/>
<rect x="217.08" y="294.80" width="19.59" height="9.80" fill="#d6d23a" shape-rendering="crispEdges"/>
<rect x="236.67" y="294.80" width="19.59" height="9.80" fill="#ffffff" shape-rendering="crispEdges"/>
<rect x="256.26" y="294.80" width="19.59" height="9.80" fill="#4149a8" shape-rendering="crispEdges"/>
<rect x="275.85" y="294.80" width="19.59" height="9.80" fill="#8a8a80" shape-rendering="crispEdges"/>
<rect x="295.44" y="294.80" width="19.59" height="9.80" fill="#ffffff" shape-rendering="crispEdges"/>
<rect x="315.02" y="294.80" width="19.59" height="9.80" fill="#fbd016" shape-rendering="crispEdges"/>
<rect x="334.61" y="294.80" width="19.59" height="9.80" fill="#a09f60" shape-rendering="crispEdges"/>
<rect x="21.20" y="304.60" width="19.59" height="9.80" fill="#e8232a" shape-rendering="crispEdges"/>
<rect x="40.79" y="304.60" width="19.59" height="9.80" fill="#e8232a" shape-rendering="crispEdges"/>
<rect x="60.38" y="304.60" width="19.59" height="9.80" fill="#e8232a" shape-rendering="crispEdges"/>
<rect x="79.96" y="304.60" width="19.59" height="9.80" fill="#e8232a" shape-rendering="crispEdges"/>
<rect x="99.55" y="304.60" width="19.59" height="9.80" fill="#f9b41a" shape-rendering="crispEdges"/>
<rect x="119.14" y="304.60" width="19.59" height="9.80" fill="#d6d23a" shape-rendering="crispEdges"/>
<rect x="138.73" y="304.60" width="19.59" height="9.80" fill="#4149a8" shape-rendering="crispEdges"/>
<rect x="158.32" y="304.60" width="19.59" height="9.80" fill="#f15c24" shape-rendering="crispEdges"/>
<rect x="177.91" y="304.60" width="19.59" height="9.80" fill="#f15c24" shape-rendering="crispEdges"/>
<rect x="197.49" y="304.60" width="19.59" height="9.80" fill="#6060a4" shape-rendering="crispEdges"/>
<rect x="217.08" y="304.60" width="19.59" height="9.80" fill="#a09f60" shape-rendering="crispEdges"/>
<rect x="236.67" y="304.60" width="19.59" height="9.80" fill="#ffffff" shape-rendering="crispEdges"/>
<rect x="256.26" y="304.60" width="19.59" height="9.80" fill="#8a8a80" shape-rendering="crispEdges"/>
<rect x="275.85" y="304.60" width="19.59" height="9.80" fill="#76769a" shape-rendering="crispEdges"/>
<rect x="295.44" y="304.60" width="19.59" height="9.80" fill="#ffffff" shape-rendering="crispEdges"/>
<rect x="315.02" y="304.60" width="19.59" height="9.80" fill="#fbd016" shape-rendering="crispEdges"/>
<rect x="334.61" y="304.60" width="19.59" height="9.80" fill="#8a8a80" shape-rendering="crispEdges"/>
<rect x="21.20" y="314.40" width="19.59" height="9.80" fill="#e8232a" shape-rendering="crispEdges"/>
<rect x="40.79" y="314.40" width="19.59" height="9.80" fill="#e8232a" shape-rendering="crispEdges"/>
<rect x="60.38" y="314.40" width="19.59" height="9.80" fill="#e8232a" shape-rendering="crispEdges"/>
<rect x="79.96" y="314.40" width="19.59" height="9.80" fill="#e8232a" shape-rendering="crispEdges"/>
<rect x="99.55" y="314.40" width="19.59" height="9.80" fill="#f9b41a" shape-rendering="crispEdges"/>
<rect x="119.14" y="314.40" width="19.59" height="9.80" fill="#d6d23a" shape-rendering="crispEdges"/>
<rect x="138.73" y="314.40" width="19.59" height="9.80" fill="#4149a8" shape-rendering="crispEdges"/>
<rect x="158.32" y="314.40" width="19.59" height="9.80" fill="#ec4427" shape-rendering="crispEdges"/>
<rect x="177.91" y="314.40" width="19.59" height="9.80" fill="#f6921e" shape-rendering="crispEdges"/>
<rect x="197.49" y="314.40" width="19.59" height="9.80" fill="#d6d23a" shape-rendering="crispEdges"/>
<rect x="217.08" y="314.40" width="19.59" height="9.80" fill="#a09f60" shape-rendering="crispEdges"/>
<rect x="236.67" y="314.40" width="19.59" height="9.80" fill="#ffffff" shape-rendering="crispEdges"/>
<rect x="256.26" y="314.40" width="19.59" height="9.80" fill="#8a8a80" shape-rendering="crispEdges"/>
<rect x="275.85" y="314.40" width="19.59" height="9.80" fill="#ffffff" shape-rendering="crispEdges"/>
<rect x="295.44" y="314.40" width="19.59" height="9.80" fill="#ffffff" shape-rendering="crispEdges"/>
<rect x="315.02" y="314.40" width="19.59" height="9.80" fill="#fbd016" shape-rendering="crispEdges"/>
<rect x="334.61" y="314.40" width="19.59" height="9.80" fill="#a09f60" shape-rendering="crispEdges"/>
<rect x="21.20" y="324.20" width="19.59" height="9.80" fill="#e8232a" shape-rendering="crispEdges"/>
<rect x="40.79" y="324.20" width="19.59" height="9.80" fill="#e8232a" shape-rendering="crispEdges"/>
<rect x="60.38" y="324.20" width="19.59" height="9.80" fill="#e8232a" shape-rendering="crispEdges"/>
<rect x="79.96" y="324.20" width="19.59" height="9.80" fill="#e8232a" shape-rendering="crispEdges"/>
<rect x="99.55" y="324.20" width="19.59" height="9.80" fill="#fbd016" shape-rendering="crispEdges"/>
<rect x="119.14" y="324.20" width="19.59" height="9.80" fill="#b2ae46" shape-rendering="crispEdges"/>
<rect x="138.73" y="324.20" width="19.59" height="9.80" fill="#4149a8" shape-rendering="crispEdges"/>
<rect x="158.32" y="324.20" width="19.59" height="9.80" fill="#ec4427" shape-rendering="crispEdges"/>
<rect x="177.91" y="324.20" width="19.59" height="9.80" fill="#fbd016" shape-rendering="crispEdges"/>
<rect x="197.49" y="324.20" width="19.59" height="9.80" fill="#d6d23a" shape-rendering="crispEdges"/>
<rect x="217.08" y="324.20" width="19.59" height="9.80" fill="#b2ae46" shape-rendering="crispEdges"/>
<rect x="236.67" y="324.20" width="19.59" height="9.80" fill="#ffffff" shape-rendering="crispEdges"/>
<rect x="256.26" y="324.20" width="19.59" height="9.80" fill="#6060a4" shape-rendering="crispEdges"/>
<rect x="275.85" y="324.20" width="19.59" height="9.80" fill="#ffffff" shape-rendering="crispEdges"/>
<rect x="295.44" y="324.20" width="19.59" height="9.80" fill="#ffffff" shape-rendering="crispEdges"/>
<rect x="315.02" y="324.20" width="19.59" height="9.80" fill="#f0e326" shape-rendering="crispEdges"/>
<rect x="334.61" y="324.20" width="19.59" height="9.80" fill="#a09f60" shape-rendering="crispEdges"/>
<rect x="21.20" y="334.00" width="19.59" height="9.80" fill="#a09f60" shape-rendering="crispEdges"/>
<rect x="40.79" y="334.00" width="19.59" height="9.80" fill="#f0e326" shape-rendering="crispEdges"/>
<rect x="60.38" y="334.00" width="19.59" height="9.80" fill="#b2ae46" shape-rendering="crispEdges"/>
<rect x="79.96" y="334.00" width="19.59" height="9.80" fill="#fbd016" shape-rendering="crispEdges"/>
<rect x="99.55" y="334.00" width="19.59" height="9.80" fill="#f0e326" shape-rendering="crispEdges"/>
<rect x="119.14" y="334.00" width="19.59" height="9.80" fill="#4149a8" shape-rendering="crispEdges"/>
<rect x="138.73" y="334.00" width="19.59" height="9.80" fill="#4149a8" shape-rendering="crispEdges"/>
<rect x="158.32" y="334.00" width="19.59" height="9.80" fill="#fbd016" shape-rendering="crispEdges"/>
<rect x="177.91" y="334.00" width="19.59" height="9.80" fill="#76769a" shape-rendering="crispEdges"/>
<rect x="197.49" y="334.00" width="19.59" height="9.80" fill="#4149a8" shape-rendering="crispEdges"/>
<rect x="217.08" y="334.00" width="19.59" height="9.80" fill="#8a8a80" shape-rendering="crispEdges"/>
<rect x="236.67" y="334.00" width="19.59" height="9.80" fill="#ffffff" shape-rendering="crispEdges"/>
<rect x="256.26" y="334.00" width="19.59" height="9.80" fill="#6060a4" shape-rendering="crispEdges"/>
<rect x="275.85" y="334.00" width="19.59" height="9.80" fill="#f0e326" shape-rendering="crispEdges"/>
<rect x="295.44" y="334.00" width="19.59" height="9.80" fill="#ffffff" shape-rendering="crispEdges"/>
<rect x="315.02" y="334.00" width="19.59" height="9.80" fill="#d6d23a" shape-rendering="crispEdges"/>
<rect x="334.61" y="334.00" width="19.59" height="9.80" fill="#8a8a80" shape-rendering="crispEdges"/>
<line x1="40.79" y1="245.8" x2="40.79" y2="343.8" stroke="rgba(255,255,255,0.45)" stroke-width="0.6"/>
<line x1="60.38" y1="245.8" x2="60.38" y2="343.8" stroke="rgba(255,255,255,0.45)" stroke-width="0.6"/>
<line x1="79.96" y1="245.8" x2="79.96" y2="343.8" stroke="rgba(255,255,255,0.45)" stroke-width="0.6"/>
<line x1="99.55" y1="245.8" x2="99.55" y2="343.8" stroke="rgba(255,255,255,0.45)" stroke-width="0.6"/>
<line x1="119.14" y1="245.8" x2="119.14" y2="343.8" stroke="rgba(255,255,255,0.45)" stroke-width="0.6"/>
<line x1="138.73" y1="245.8" x2="138.73" y2="343.8" stroke="rgba(255,255,255,0.45)" stroke-width="0.6"/>
<line x1="158.32" y1="245.8" x2="158.32" y2="343.8" stroke="rgba(255,255,255,0.45)" stroke-width="0.6"/>
<line x1="177.91" y1="245.8" x2="177.91" y2="343.8" stroke="rgba(255,255,255,0.45)" stroke-width="0.6"/>
<line x1="197.49" y1="245.8" x2="197.49" y2="343.8" stroke="rgba(255,255,255,0.45)" stroke-width="0.6"/>
<line x1="217.08" y1="245.8" x2="217.08" y2="343.8" stroke="rgba(255,255,255,0.45)" stroke-width="0.6"/>
<line x1="236.67" y1="245.8" x2="236.67" y2="343.8" stroke="rgba(255,255,255,0.45)" stroke-width="0.6"/>
<line x1="256.26" y1="245.8" x2="256.26" y2="343.8" stroke="rgba(255,255,255,0.45)" stroke-width="0.6"/>
<line x1="275.85" y1="245.8" x2="275.85" y2="343.8" stroke="rgba(255,255,255,0.45)" stroke-width="0.6"/>
<line x1="295.44" y1="245.8" x2="295.44" y2="343.8" stroke="rgba(255,255,255,0.45)" stroke-width="0.6"/>
<line x1="315.02" y1="245.8" x2="315.02" y2="343.8" stroke="rgba(255,255,255,0.45)" stroke-width="0.6"/>
<line x1="334.61" y1="245.8" x2="334.61" y2="343.8" stroke="rgba(255,255,255,0.45)" stroke-width="0.6"/>
<line x1="21.2" y1="255.6" x2="354.2" y2="255.6" stroke="rgba(255,255,255,0.45)" stroke-width="0.6"/>
<line x1="21.2" y1="265.4" x2="354.2" y2="265.4" stroke="rgba(255,255,255,0.45)" stroke-width="0.6"/>
<line x1="21.2" y1="275.2" x2="354.2" y2="275.2" stroke="rgba(255,255,255,0.45)" stroke-width="0.6"/>
<line x1="21.2" y1="285.0" x2="354.2" y2="285.0" stroke="rgba(255,255,255,0.45)" stroke-width="0.6"/>
<line x1="21.2" y1="294.8" x2="354.2" y2="294.8" stroke="rgba(255,255,255,0.45)" stroke-width="0.6"/>
<line x1="21.2" y1="304.6" x2="354.2" y2="304.6" stroke="rgba(255,255,255,0.45)" stroke-width="0.6"/>
<line x1="21.2" y1="314.4" x2="354.2" y2="314.4" stroke="rgba(255,255,255,0.45)" stroke-width="0.6"/>
<line x1="21.2" y1="324.2" x2="354.2" y2="324.2" stroke="rgba(255,255,255,0.45)" stroke-width="0.6"/>
<line x1="21.2" y1="334.0" x2="354.2" y2="334.0" stroke="rgba(255,255,255,0.45)" stroke-width="0.6"/>
<rect x="375.4" y="201" width="133.8" height="139.6" fill="none" stroke="#d6d6d6" stroke-width="0.8"/>
<text x="373.3" y="335.8" font-size="3.2" font-weight="normal" font-style="normal" fill="#888" text-anchor="end">0</text>
<line x1="373.5" y1="334.7" x2="374.6" y2="334.7" stroke="#bbb" stroke-width="0.5"/>
<text x="373.3" y="310.32" font-size="3.2" font-weight="normal" font-style="normal" fill="#888" text-anchor="end">20</text>
<line x1="373.5" y1="309.21999999999997" x2="374.6" y2="309.21999999999997" stroke="#bbb" stroke-width="0.5"/>
<text x="373.3" y="284.84000000000003" font-size="3.2" font-weight="normal" font-style="normal" fill="#888" text-anchor="end">40</text>
<line x1="373.5" y1="283.74" x2="374.6" y2="283.74" stroke="#bbb" stroke-width="0.5"/>
<text x="373.3" y="259.36" font-size="3.2" font-weight="normal" font-style="normal" fill="#888" text-anchor="end">60</text>
<line x1="373.5" y1="258.26" x2="374.6" y2="258.26" stroke="#bbb" stroke-width="0.5"/>
<text x="373.3" y="233.87999999999997" font-size="3.2" font-weight="normal" font-style="normal" fill="#888" text-anchor="end">80</text>
<line x1="373.5" y1="232.77999999999997" x2="374.6" y2="232.77999999999997" stroke="#bbb" stroke-width="0.5"/>
<text x="373.3" y="208.39999999999998" font-size="3.2" font-weight="normal" font-style="normal" fill="#888" text-anchor="end">100</text>
<line x1="373.5" y1="207.29999999999998" x2="374.6" y2="207.29999999999998" stroke="#bbb" stroke-width="0.5"/>
<text x="368.3" y="306.0" font-size="7.0" font-weight="bold" font-style="normal" fill="#111" text-anchor="start" textLength="72.5" lengthAdjust="spacingAndGlyphs" transform="rotate(-90 368.3 306.0)" stroke="#111" stroke-width="0.15">Methylation Rate (%)</text>
<text x="390.6" y="348.6" font-size="5.6" font-weight="bold" font-style="normal" fill="#222" text-anchor="middle" textLength="16.2" lengthAdjust="spacingAndGlyphs">NGCB</text>
<text x="416.5" y="348.6" font-size="5.6" font-weight="bold" font-style="normal" fill="#222" text-anchor="middle">B</text>
<text x="442.8" y="348.6" font-size="5.6" font-weight="bold" font-style="normal" fill="#222" text-anchor="middle">C</text>
<text x="468.8" y="348.6" font-size="5.6" font-weight="bold" font-style="normal" fill="#222" text-anchor="middle">D</text>
<text x="494.9" y="348.6" font-size="5.6" font-weight="bold" font-style="normal" fill="#222" text-anchor="middle">E</text>
<line x1="390.7" y1="340.6" x2="390.7" y2="342.0" stroke="#aaa" stroke-width="0.5"/>
<line x1="416.6" y1="340.6" x2="416.6" y2="342.0" stroke="#aaa" stroke-width="0.5"/>
<line x1="442.6" y1="340.6" x2="442.6" y2="342.0" stroke="#aaa" stroke-width="0.5"/>
<line x1="468.6" y1="340.6" x2="468.6" y2="342.0" stroke="#aaa" stroke-width="0.5"/>
<line x1="494.5" y1="340.6" x2="494.5" y2="342.0" stroke="#aaa" stroke-width="0.5"/>
<line x1="390.7" y1="207.2" x2="390.7" y2="290.2" stroke="#a8a8a8" stroke-width="1"/>
<line x1="416.6" y1="207.2" x2="416.6" y2="334.6" stroke="#a8a8a8" stroke-width="1"/>
<line x1="442.6" y1="253" x2="442.6" y2="306.3" stroke="#a8a8a8" stroke-width="1"/>
<line x1="468.6" y1="233" x2="468.6" y2="334.6" stroke="#a8a8a8" stroke-width="1"/>
<line x1="494.5" y1="294" x2="494.5" y2="334.6" stroke="#a8a8a8" stroke-width="1"/>
<polygon points="380.60,215.80 380.60,215.40 384.40,227.00 380.60,238.60 380.60,259.60 400.70,259.60 400.70,238.60 396.40,227.00 400.70,215.40 400.70,215.80" fill="#2cc0ca" stroke="#1f9aa3" stroke-width="0.7"/>
<line x1="384.4" y1="227.0" x2="396.4" y2="227.0" stroke="#333" stroke-width="0.8"/>
<polygon points="406.90,254.30 406.90,261.50 412.20,276.40 406.90,290.50 406.90,314.40 426.70,314.40 426.70,290.50 421.90,276.40 426.70,261.50 426.70,254.30" fill="#1f9e7c" stroke="#167a5e" stroke-width="0.7"/>
<line x1="412.2" y1="276.4" x2="421.9" y2="276.4" stroke="#333" stroke-width="0.8"/>
<polygon points="432.30,267.20 432.30,281.40 436.80,288.70 432.30,296.80 432.30,292.80 452.70,292.80 452.70,296.80 448.30,288.70 452.70,281.40 452.70,267.20" fill="#7a6cb9" stroke="#5b4f98" stroke-width="0.7"/>
<line x1="436.8" y1="288.7" x2="448.3" y2="288.7" stroke="#333" stroke-width="0.8"/>
<polygon points="458.50,264.10 458.50,276.50 463.40,287.60 458.50,296.80 458.50,299.00 478.00,299.00 478.00,296.80 474.80,287.60 478.00,276.50 478.00,264.10" fill="#e2278d" stroke="#b01a6c" stroke-width="0.7"/>
<line x1="463.4" y1="287.6" x2="474.8" y2="287.6" stroke="#333" stroke-width="0.8"/>
<polygon points="484.40,298.40 484.40,299.50 488.00,306.70 484.40,313.80 484.40,315.80 505.10,315.80 505.10,313.80 501.80,306.70 505.10,299.50 505.10,298.40" fill="#e9a726" stroke="#b88414" stroke-width="0.7"/>
<line x1="488.0" y1="306.7" x2="501.8" y2="306.7" stroke="#333" stroke-width="0.8"/>
<circle cx="386.2" cy="207.3" r="0.75" fill="#1a1a1a"/>
<circle cx="390.3" cy="207.6" r="0.75" fill="#1a1a1a"/>
<circle cx="396.9" cy="207.3" r="0.75" fill="#1a1a1a"/>
<circle cx="381.3" cy="210.2" r="0.75" fill="#1a1a1a"/>
<circle cx="382.1" cy="211.2" r="0.75" fill="#1a1a1a"/>
<circle cx="387.7" cy="212.2" r="0.75" fill="#1a1a1a"/>
<circle cx="390.3" cy="210.7" r="0.75" fill="#1a1a1a"/>
<circle cx="392.3" cy="212.7" r="0.75" fill="#1a1a1a"/>
<circle cx="398.9" cy="212.7" r="0.75" fill="#1a1a1a"/>
<circle cx="381.1" cy="215.3" r="0.75" fill="#1a1a1a"/>
<circle cx="381.9" cy="216.3" r="0.75" fill="#1a1a1a"/>
<circle cx="389.3" cy="221.4" r="0.75" fill="#1a1a1a"/>
<circle cx="393.8" cy="218.3" r="0.75" fill="#1a1a1a"/>
<circle cx="395.4" cy="218.3" r="0.75" fill="#1a1a1a"/>
<circle cx="401.0" cy="222.4" r="0.75" fill="#1a1a1a"/>
<circle cx="400.0" cy="224.4" r="0.75" fill="#1a1a1a"/>
<circle cx="387.2" cy="216.3" r="0.75" fill="#1a1a1a"/>
<circle cx="391.8" cy="215.8" r="0.75" fill="#1a1a1a"/>
<circle cx="395.9" cy="232.6" r="0.75" fill="#1a1a1a"/>
<circle cx="388.2" cy="246.3" r="0.75" fill="#1a1a1a"/>
<circle cx="390.3" cy="247.8" r="0.75" fill="#1a1a1a"/>
<circle cx="397.4" cy="244.8" r="0.75" fill="#1a1a1a"/>
<circle cx="387.7" cy="246.5" r="0.75" fill="#1a1a1a"/>
<circle cx="390.8" cy="248.0" r="0.75" fill="#1a1a1a"/>
<circle cx="398.9" cy="249.6" r="0.75" fill="#1a1a1a"/>
<circle cx="381.6" cy="252.6" r="0.75" fill="#1a1a1a"/>
<circle cx="396.4" cy="251.6" r="0.75" fill="#1a1a1a"/>
<circle cx="384.7" cy="257.2" r="0.75" fill="#1a1a1a"/>
<circle cx="391.3" cy="258.2" r="0.75" fill="#1a1a1a"/>
<circle cx="399.4" cy="265.3" r="0.75" fill="#1a1a1a"/>
<circle cx="393.8" cy="268.2" r="0.75" fill="#1a1a1a"/>
<circle cx="385.0" cy="269.6" r="0.75" fill="#1a1a1a"/>
<circle cx="398.9" cy="272.5" r="0.75" fill="#1a1a1a"/>
<circle cx="389.3" cy="274.7" r="0.75" fill="#1a1a1a"/>
<circle cx="381.3" cy="277.8" r="0.75" fill="#1a1a1a"/>
<circle cx="397.6" cy="280.1" r="0.75" fill="#1a1a1a"/>
<circle cx="383.2" cy="289.0" r="0.75" fill="#1a1a1a"/>
<circle cx="394.9" cy="289.8" r="0.75" fill="#1a1a1a"/>
<circle cx="401.0" cy="288.7" r="0.75" fill="#1a1a1a"/>
<circle cx="422.3" cy="207.3" r="0.75" fill="#1a1a1a"/>
<circle cx="416.2" cy="214.9" r="0.75" fill="#1a1a1a"/>
<circle cx="423.2" cy="220.1" r="0.75" fill="#1a1a1a"/>
<circle cx="412.8" cy="222.6" r="0.75" fill="#1a1a1a"/>
<circle cx="415.3" cy="232.4" r="0.75" fill="#1a1a1a"/>
<circle cx="413.7" cy="236.4" r="0.75" fill="#1a1a1a"/>
<circle cx="409.8" cy="241.9" r="0.75" fill="#1a1a1a"/>
<circle cx="415.0" cy="244.6" r="0.75" fill="#1a1a1a"/>
<circle cx="415.9" cy="252.7" r="0.75" fill="#1a1a1a"/>
<circle cx="407.1" cy="254.6" r="0.75" fill="#1a1a1a"/>
<circle cx="413.7" cy="255.9" r="0.75" fill="#1a1a1a"/>
<circle cx="418.3" cy="255.1" r="0.75" fill="#1a1a1a"/>
<circle cx="412.7" cy="259.7" r="0.75" fill="#1a1a1a"/>
<circle cx="418.1" cy="258.6" r="0.75" fill="#1a1a1a"/>
<circle cx="415.3" cy="260.7" r="0.75" fill="#1a1a1a"/>
<circle cx="417.3" cy="264.2" r="0.75" fill="#1a1a1a"/>
<circle cx="418.8" cy="264.8" r="0.75" fill="#1a1a1a"/>
<circle cx="426.4" cy="271.4" r="0.75" fill="#1a1a1a"/>
<circle cx="417.8" cy="273.6" r="0.75" fill="#1a1a1a"/>
<circle cx="424.4" cy="275.4" r="0.75" fill="#1a1a1a"/>
<circle cx="424.9" cy="277.5" r="0.75" fill="#1a1a1a"/>
<circle cx="415.3" cy="278.0" r="0.75" fill="#1a1a1a"/>
<circle cx="418.3" cy="279.5" r="0.75" fill="#1a1a1a"/>
<circle cx="418.8" cy="280.5" r="0.75" fill="#1a1a1a"/>
<circle cx="426.4" cy="282.8" r="0.75" fill="#1a1a1a"/>
<circle cx="423.9" cy="287.1" r="0.75" fill="#1a1a1a"/>
<circle cx="401.5" cy="288.7" r="0.75" fill="#1a1a1a"/>
<circle cx="425.4" cy="297.3" r="0.75" fill="#1a1a1a"/>
<circle cx="425.4" cy="297.6" r="0.75" fill="#1a1a1a"/>
<circle cx="409.2" cy="304.8" r="0.75" fill="#1a1a1a"/>
<circle cx="409.4" cy="308.8" r="0.75" fill="#1a1a1a"/>
<circle cx="419.8" cy="316.2" r="0.75" fill="#1a1a1a"/>
<circle cx="422.9" cy="314.4" r="0.75" fill="#1a1a1a"/>
<circle cx="412.0" cy="321.7" r="0.75" fill="#1a1a1a"/>
<circle cx="410.2" cy="325.8" r="0.75" fill="#1a1a1a"/>
<circle cx="423.4" cy="324.6" r="0.75" fill="#1a1a1a"/>
<circle cx="423.4" cy="327.6" r="0.75" fill="#1a1a1a"/>
<circle cx="414.2" cy="329.7" r="0.75" fill="#1a1a1a"/>
<circle cx="421.4" cy="329.5" r="0.75" fill="#1a1a1a"/>
<circle cx="426.7" cy="329.0" r="0.75" fill="#1a1a1a"/>
<circle cx="410.0" cy="334.8" r="0.75" fill="#1a1a1a"/>
<circle cx="445.6" cy="253.2" r="0.75" fill="#1a1a1a"/>
<circle cx="432.6" cy="263.5" r="0.75" fill="#1a1a1a"/>
<circle cx="437.6" cy="263.5" r="0.75" fill="#1a1a1a"/>
<circle cx="445.6" cy="262.2" r="0.75" fill="#1a1a1a"/>
<circle cx="450.5" cy="261.9" r="0.75" fill="#1a1a1a"/>
<circle cx="433.7" cy="273.4" r="0.75" fill="#1a1a1a"/>
<circle cx="433.9" cy="282.7" r="0.75" fill="#1a1a1a"/>
<circle cx="452.5" cy="287.1" r="0.75" fill="#1a1a1a"/>
<circle cx="434.6" cy="291.3" r="0.75" fill="#1a1a1a"/>
<circle cx="439.2" cy="290.6" r="0.75" fill="#1a1a1a"/>
<circle cx="449.1" cy="291.3" r="0.75" fill="#1a1a1a"/>
<circle cx="436.6" cy="295.9" r="0.75" fill="#1a1a1a"/>
<circle cx="445.8" cy="296.3" r="0.75" fill="#1a1a1a"/>
<circle cx="436.3" cy="299.2" r="0.75" fill="#1a1a1a"/>
<circle cx="447.2" cy="299.2" r="0.75" fill="#1a1a1a"/>
<circle cx="449.1" cy="306.1" r="0.75" fill="#1a1a1a"/>
<circle cx="432.6" cy="263.2" r="0.75" fill="#1a1a1a"/>
<circle cx="468.5" cy="207.3" r="0.75" fill="#1a1a1a"/>
<circle cx="473.6" cy="206.9" r="0.75" fill="#1a1a1a"/>
<circle cx="460.6" cy="210.8" r="0.75" fill="#1a1a1a"/>
<circle cx="468.5" cy="211.2" r="0.75" fill="#1a1a1a"/>
<circle cx="478.5" cy="232.8" r="0.75" fill="#1a1a1a"/>
<circle cx="459.7" cy="241.3" r="0.75" fill="#1a1a1a"/>
<circle cx="471.2" cy="243.9" r="0.75" fill="#1a1a1a"/>
<circle cx="462.8" cy="251.6" r="0.75" fill="#1a1a1a"/>
<circle cx="461.5" cy="254.2" r="0.75" fill="#1a1a1a"/>
<circle cx="459.3" cy="263.6" r="0.75" fill="#1a1a1a"/>
<circle cx="473.1" cy="264.6" r="0.75" fill="#1a1a1a"/>
<circle cx="467.4" cy="273.8" r="0.75" fill="#1a1a1a"/>
<circle cx="474.0" cy="272.2" r="0.75" fill="#1a1a1a"/>
<circle cx="469.9" cy="280.3" r="0.75" fill="#1a1a1a"/>
<circle cx="468.3" cy="284.4" r="0.75" fill="#1a1a1a"/>
<circle cx="461.8" cy="286.8" r="0.75" fill="#1a1a1a"/>
<circle cx="466.6" cy="289.3" r="0.75" fill="#1a1a1a"/>
<circle cx="471.5" cy="290.1" r="0.75" fill="#1a1a1a"/>
<circle cx="468.3" cy="292.5" r="0.75" fill="#1a1a1a"/>
<circle cx="478.0" cy="290.9" r="0.75" fill="#1a1a1a"/>
<circle cx="471.5" cy="296.6" r="0.75" fill="#1a1a1a"/>
<circle cx="474.0" cy="300.7" r="0.75" fill="#1a1a1a"/>
<circle cx="463.4" cy="308.0" r="0.75" fill="#1a1a1a"/>
<circle cx="468.3" cy="308.8" r="0.75" fill="#1a1a1a"/>
<circle cx="467.9" cy="315.3" r="0.75" fill="#1a1a1a"/>
<circle cx="477.2" cy="316.1" r="0.75" fill="#1a1a1a"/>
<circle cx="460.1" cy="319.3" r="0.75" fill="#1a1a1a"/>
<circle cx="474.8" cy="334.0" r="0.75" fill="#1a1a1a"/>
<circle cx="477.2" cy="333.2" r="0.75" fill="#1a1a1a"/>
<circle cx="491.7" cy="257.0" r="0.75" fill="#1a1a1a"/>
<circle cx="494.5" cy="257.3" r="0.75" fill="#1a1a1a"/>
<circle cx="486.2" cy="264.3" r="0.75" fill="#1a1a1a"/>
<circle cx="495.4" cy="264.3" r="0.75" fill="#1a1a1a"/>
<circle cx="490.8" cy="268.3" r="0.75" fill="#1a1a1a"/>
<circle cx="495.4" cy="268.3" r="0.75" fill="#1a1a1a"/>
<circle cx="488.6" cy="294.2" r="0.75" fill="#1a1a1a"/>
<circle cx="491.7" cy="300.3" r="0.75" fill="#1a1a1a"/>
<circle cx="500.3" cy="302.7" r="0.75" fill="#1a1a1a"/>
<circle cx="490.4" cy="306.7" r="0.75" fill="#1a1a1a"/>
<circle cx="496.3" cy="308.9" r="0.75" fill="#1a1a1a"/>
<circle cx="484.9" cy="309.4" r="0.75" fill="#1a1a1a"/>
<circle cx="487.1" cy="314.4" r="0.75" fill="#1a1a1a"/>
<circle cx="485.3" cy="319.1" r="0.75" fill="#1a1a1a"/>
<circle cx="498.1" cy="318.6" r="0.75" fill="#1a1a1a"/>
<circle cx="490.4" cy="325.0" r="0.75" fill="#1a1a1a"/>
<circle cx="484.4" cy="334.5" r="0.75" fill="#1a1a1a"/>
<circle cx="486.2" cy="334.5" r="0.75" fill="#1a1a1a"/>
<circle cx="500.9" cy="334.5" r="0.75" fill="#1a1a1a"/>
<text x="0.5" y="372.7" font-size="11.5" font-weight="bold" font-style="normal" fill="#111" text-anchor="start" stroke="#111" stroke-width="0.35">C</text>
<text x="90.2" y="372.4" font-size="10.4" font-weight="bold" font-style="italic" fill="#111" text-anchor="start" textLength="24.8" lengthAdjust="spacingAndGlyphs" stroke="#111" stroke-width="0.15">CCR6</text>
<rect x="19.90" y="379.20" width="66.90" height="3.40" fill="#000"/>
<rect x="64.00" y="386.30" width="25.00" height="3.30" fill="#e2168c"/>
<line x1="2.6" y1="395.5" x2="180" y2="395.5" stroke="#9c9cbc" stroke-width="1.0"/>
<rect x="86.70" y="398.20" width="12.50" height="2.00" fill="#252a78"/>
<line x1="99.2" y1="399.0" x2="180" y2="399.0" stroke="#c4c4dc" stroke-width="1.5"/>
<text x="22.1" y="403.2" font-size="5.6" font-weight="bold" font-style="normal" fill="#111" text-anchor="start" textLength="17.7" lengthAdjust="spacingAndGlyphs" stroke="#111" stroke-width="0.2">NGCB</text>
<text x="51.9" y="403.2" font-size="5.6" font-weight="bold" font-style="normal" fill="#111" text-anchor="start" textLength="26.3" lengthAdjust="spacingAndGlyphs" stroke="#111" stroke-width="0.2">Cluster A</text>
<rect x="13.80" y="405.60" width="34.30" height="2.50" fill="#2bb4ba"/>
<rect x="48.10" y="405.60" width="34.70" height="2.50" fill="#d5692e"/>
<rect x="5.20" y="407.80" width="5.60" height="83.00" fill="#e0148c"/>
<rect x="13.80" y="408.50" width="8.62" height="4.12" fill="#4149a8" shape-rendering="crispEdges"/>
<rect x="22.43" y="408.50" width="8.62" height="4.12" fill="#4149a8" shape-rendering="crispEdges"/>
<rect x="31.05" y="408.50" width="8.62" height="4.12" fill="#4149a8" shape-rendering="crispEdges"/>
<rect x="39.67" y="408.50" width="8.62" height="4.12" fill="#4149a8" shape-rendering="crispEdges"/>
<rect x="48.30" y="408.50" width="8.62" height="4.12" fill="#76769a" shape-rendering="crispEdges"/>
<rect x="56.92" y="408.50" width="8.62" height="4.12" fill="#76769a" shape-rendering="crispEdges"/>
<rect x="65.55" y="408.50" width="8.62" height="4.12" fill="#f15c24" shape-rendering="crispEdges"/>
<rect x="74.17" y="408.50" width="8.62" height="4.12" fill="#fbd016" shape-rendering="crispEdges"/>
<rect x="13.80" y="412.62" width="8.62" height="4.12" fill="#4149a8" shape-rendering="crispEdges"/>
<rect x="22.43" y="412.62" width="8.62" height="4.12" fill="#4149a8" shape-rendering="crispEdges"/>
<rect x="31.05" y="412.62" width="8.62" height="4.12" fill="#4149a8" shape-rendering="crispEdges"/>
<rect x="39.67" y="412.62" width="8.62" height="4.12" fill="#4149a8" shape-rendering="crispEdges"/>
<rect x="48.30" y="412.62" width="8.62" height="4.12" fill="#a09f60" shape-rendering="crispEdges"/>
<rect x="56.92" y="412.62" width="8.62" height="4.12" fill="#a09f60" shape-rendering="crispEdges"/>
<rect x="65.55" y="412.62" width="8.62" height="4.12" fill="#f15c24" shape-rendering="crispEdges"/>
<rect x="74.17" y="412.62" width="8.62" height="4.12" fill="#f9b41a" shape-rendering="crispEdges"/>
<rect x="13.80" y="416.73" width="8.62" height="4.12" fill="#4149a8" shape-rendering="crispEdges"/>
<rect x="22.43" y="416.73" width="8.62" height="4.12" fill="#4149a8" shape-rendering="crispEdges"/>
<rect x="31.05" y="416.73" width="8.62" height="4.12" fill="#4149a8" shape-rendering="crispEdges"/>
<rect x="39.67" y="416.73" width="8.62" height="4.12" fill="#4149a8" shape-rendering="crispEdges"/>
<rect x="48.30" y="416.73" width="8.62" height="4.12" fill="#4149a8" shape-rendering="crispEdges"/>
<rect x="56.92" y="416.73" width="8.62" height="4.12" fill="#4149a8" shape-rendering="crispEdges"/>
<rect x="65.55" y="416.73" width="8.62" height="4.12" fill="#d6d23a" shape-rendering="crispEdges"/>
<rect x="74.17" y="416.73" width="8.62" height="4.12" fill="#d6d23a" shape-rendering="crispEdges"/>
<rect x="13.80" y="420.85" width="8.62" height="4.12" fill="#4149a8" shape-rendering="crispEdges"/>
<rect x="22.43" y="420.85" width="8.62" height="4.12" fill="#4149a8" shape-rendering="crispEdges"/>
<rect x="31.05" y="420.85" width="8.62" height="4.12" fill="#4149a8" shape-rendering="crispEdges"/>
<rect x="39.67" y="420.85" width="8.62" height="4.12" fill="#4149a8" shape-rendering="crispEdges"/>
<rect x="48.30" y="420.85" width="8.62" height="4.12" fill="#a09f60" shape-rendering="crispEdges"/>
<rect x="56.92" y="420.85" width="8.62" height="4.12" fill="#a09f60" shape-rendering="crispEdges"/>
<rect x="65.55" y="420.85" width="8.62" height="4.12" fill="#f0e326" shape-rendering="crispEdges"/>
<rect x="74.17" y="420.85" width="8.62" height="4.12" fill="#f0e326" shape-rendering="crispEdges"/>
<rect x="13.80" y="424.96" width="8.62" height="4.12" fill="#4149a8" shape-rendering="crispEdges"/>
<rect x="22.43" y="424.96" width="8.62" height="4.12" fill="#4149a8" shape-rendering="crispEdges"/>
<rect x="31.05" y="424.96" width="8.62" height="4.12" fill="#4149a8" shape-rendering="crispEdges"/>
<rect x="39.67" y="424.96" width="8.62" height="4.12" fill="#4149a8" shape-rendering="crispEdges"/>
<rect x="48.30" y="424.96" width="8.62" height="4.12" fill="#4149a8" shape-rendering="crispEdges"/>
<rect x="56.92" y="424.96" width="8.62" height="4.12" fill="#4149a8" shape-rendering="crispEdges"/>
<rect x="65.55" y="424.96" width="8.62" height="4.12" fill="#f0e326" shape-rendering="crispEdges"/>
<rect x="74.17" y="424.96" width="8.62" height="4.12" fill="#d6d23a" shape-rendering="crispEdges"/>
<rect x="13.80" y="429.07" width="8.62" height="4.12" fill="#4149a8" shape-rendering="crispEdges"/>
<rect x="22.43" y="429.07" width="8.62" height="4.12" fill="#4149a8" shape-rendering="crispEdges"/>
<rect x="31.05" y="429.07" width="8.62" height="4.12" fill="#4149a8" shape-rendering="crispEdges"/>
<rect x="39.67" y="429.07" width="8.62" height="4.12" fill="#4149a8" shape-rendering="crispEdges"/>
<rect x="48.30" y="429.07" width="8.62" height="4.12" fill="#6060a4" shape-rendering="crispEdges"/>
<rect x="56.92" y="429.07" width="8.62" height="4.12" fill="#4149a8" shape-rendering="crispEdges"/>
<rect x="65.55" y="429.07" width="8.62" height="4.12" fill="#6060a4" shape-rendering="crispEdges"/>
<rect x="74.17" y="429.07" width="8.62" height="4.12" fill="#6060a4" shape-rendering="crispEdges"/>
<rect x="13.80" y="433.19" width="8.62" height="4.12" fill="#4149a8" shape-rendering="crispEdges"/>
<rect x="22.43" y="433.19" width="8.62" height="4.12" fill="#4149a8" shape-rendering="crispEdges"/>
<rect x="31.05" y="433.19" width="8.62" height="4.12" fill="#4149a8" shape-rendering="crispEdges"/>
<rect x="39.67" y="433.19" width="8.62" height="4.12" fill="#4149a8" shape-rendering="crispEdges"/>
<rect x="48.30" y="433.19" width="8.62" height="4.12" fill="#6060a4" shape-rendering="crispEdges"/>
<rect x="56.92" y="433.19" width="8.62" height="4.12" fill="#4149a8" shape-rendering="crispEdges"/>
<rect x="65.55" y="433.19" width="8.62" height="4.12" fill="#d6d23a" shape-rendering="crispEdges"/>
<rect x="74.17" y="433.19" width="8.62" height="4.12" fill="#6060a4" shape-rendering="crispEdges"/>
<rect x="13.80" y="437.31" width="8.62" height="4.12" fill="#4149a8" shape-rendering="crispEdges"/>
<rect x="22.43" y="437.31" width="8.62" height="4.12" fill="#4149a8" shape-rendering="crispEdges"/>
<rect x="31.05" y="437.31" width="8.62" height="4.12" fill="#4149a8" shape-rendering="crispEdges"/>
<rect x="39.67" y="437.31" width="8.62" height="4.12" fill="#4149a8" shape-rendering="crispEdges"/>
<rect x="48.30" y="437.31" width="8.62" height="4.12" fill="#76769a" shape-rendering="crispEdges"/>
<rect x="56.92" y="437.31" width="8.62" height="4.12" fill="#4149a8" shape-rendering="crispEdges"/>
<rect x="65.55" y="437.31" width="8.62" height="4.12" fill="#f0e326" shape-rendering="crispEdges"/>
<rect x="74.17" y="437.31" width="8.62" height="4.12" fill="#d6d23a" shape-rendering="crispEdges"/>
<rect x="13.80" y="441.42" width="8.62" height="4.12" fill="#4149a8" shape-rendering="crispEdges"/>
<rect x="22.43" y="441.42" width="8.62" height="4.12" fill="#4149a8" shape-rendering="crispEdges"/>
<rect x="31.05" y="441.42" width="8.62" height="4.12" fill="#4149a8" shape-rendering="crispEdges"/>
<rect x="39.67" y="441.42" width="8.62" height="4.12" fill="#4149a8" shape-rendering="crispEdges"/>
<rect x="48.30" y="441.42" width="8.62" height="4.12" fill="#76769a" shape-rendering="crispEdges"/>
<rect x="56.92" y="441.42" width="8.62" height="4.12" fill="#4149a8" shape-rendering="crispEdges"/>
<rect x="65.55" y="441.42" width="8.62" height="4.12" fill="#f0e326" shape-rendering="crispEdges"/>
<rect x="74.17" y="441.42" width="8.62" height="4.12" fill="#d6d23a" shape-rendering="crispEdges"/>
<rect x="13.80" y="445.54" width="8.62" height="4.12" fill="#4149a8" shape-rendering="crispEdges"/>
<rect x="22.43" y="445.54" width="8.62" height="4.12" fill="#4149a8" shape-rendering="crispEdges"/>
<rect x="31.05" y="445.54" width="8.62" height="4.12" fill="#4149a8" shape-rendering="crispEdges"/>
<rect x="39.67" y="445.54" width="8.62" height="4.12" fill="#4149a8" shape-rendering="crispEdges"/>
<rect x="48.30" y="445.54" width="8.62" height="4.12" fill="#76769a" shape-rendering="crispEdges"/>
<rect x="56.92" y="445.54" width="8.62" height="4.12" fill="#6060a4" shape-rendering="crispEdges"/>
<rect x="65.55" y="445.54" width="8.62" height="4.12" fill="#f0e326" shape-rendering="crispEdges"/>
<rect x="74.17" y="445.54" width="8.62" height="4.12" fill="#f9b41a" shape-rendering="crispEdges"/>
<rect x="13.80" y="449.65" width="8.62" height="4.12" fill="#4149a8" shape-rendering="crispEdges"/>
<rect x="22.43" y="449.65" width="8.62" height="4.12" fill="#4149a8" shape-rendering="crispEdges"/>
<rect x="31.05" y="449.65" width="8.62" height="4.12" fill="#4149a8" shape-rendering="crispEdges"/>
<rect x="39.67" y="449.65" width="8.62" height="4.12" fill="#4149a8" shape-rendering="crispEdges"/>
<rect x="48.30" y="449.65" width="8.62" height="4.12" fill="#8a8a80" shape-rendering="crispEdges"/>
<rect x="56.92" y="449.65" width="8.62" height="4.12" fill="#6060a4" shape-rendering="crispEdges"/>
<rect x="65.55" y="449.65" width="8.62" height="4.12" fill="#f0e326" shape-rendering="crispEdges"/>
<rect x="74.17" y="449.65" width="8.62" height="4.12" fill="#f9b41a" shape-rendering="crispEdges"/>
<rect x="13.80" y="453.76" width="8.62" height="4.12" fill="#4149a8" shape-rendering="crispEdges"/>
<rect x="22.43" y="453.76" width="8.62" height="4.12" fill="#4149a8" shape-rendering="crispEdges"/>
<rect x="31.05" y="453.76" width="8.62" height="4.12" fill="#4149a8" shape-rendering="crispEdges"/>
<rect x="39.67" y="453.76" width="8.62" height="4.12" fill="#4149a8" shape-rendering="crispEdges"/>
<rect x="48.30" y="453.76" width="8.62" height="4.12" fill="#8a8a80" shape-rendering="crispEdges"/>
<rect x="56.92" y="453.76" width="8.62" height="4.12" fill="#6060a4" shape-rendering="crispEdges"/>
<rect x="65.55" y="453.76" width="8.62" height="4.12" fill="#f0e326" shape-rendering="crispEdges"/>
<rect x="74.17" y="453.76" width="8.62" height="4.12" fill="#d6d23a" shape-rendering="crispEdges"/>
<rect x="13.80" y="457.88" width="8.62" height="4.12" fill="#4149a8" shape-rendering="crispEdges"/>
<rect x="22.43" y="457.88" width="8.62" height="4.12" fill="#4149a8" shape-rendering="crispEdges"/>
<rect x="31.05" y="457.88" width="8.62" height="4.12" fill="#4149a8" shape-rendering="crispEdges"/>
<rect x="39.67" y="457.88" width="8.62" height="4.12" fill="#4149a8" shape-rendering="crispEdges"/>
<rect x="48.30" y="457.88" width="8.62" height="4.12" fill="#8a8a80" shape-rendering="crispEdges"/>
<rect x="56.92" y="457.88" width="8.62" height="4.12" fill="#6060a4" shape-rendering="crispEdges"/>
<rect x="65.55" y="457.88" width="8.62" height="4.12" fill="#f0e326" shape-rendering="crispEdges"/>
<rect x="74.17" y="457.88" width="8.62" height="4.12" fill="#a09f60" shape-rendering="crispEdges"/>
<rect x="13.80" y="462.00" width="8.62" height="4.12" fill="#4149a8" shape-rendering="crispEdges"/>
<rect x="22.43" y="462.00" width="8.62" height="4.12" fill="#4149a8" shape-rendering="crispEdges"/>
<rect x="31.05" y="462.00" width="8.62" height="4.12" fill="#4149a8" shape-rendering="crispEdges"/>
<rect x="39.67" y="462.00" width="8.62" height="4.12" fill="#4149a8" shape-rendering="crispEdges"/>
<rect x="48.30" y="462.00" width="8.62" height="4.12" fill="#8a8a80" shape-rendering="crispEdges"/>
<rect x="56.92" y="462.00" width="8.62" height="4.12" fill="#6060a4" shape-rendering="crispEdges"/>
<rect x="65.55" y="462.00" width="8.62" height="4.12" fill="#f0e326" shape-rendering="crispEdges"/>
<rect x="74.17" y="462.00" width="8.62" height="4.12" fill="#d6d23a" shape-rendering="crispEdges"/>
<rect x="13.80" y="466.11" width="8.62" height="4.12" fill="#4149a8" shape-rendering="crispEdges"/>
<rect x="22.43" y="466.11" width="8.62" height="4.12" fill="#4149a8" shape-rendering="crispEdges"/>
<rect x="31.05" y="466.11" width="8.62" height="4.12" fill="#4149a8" shape-rendering="crispEdges"/>
<rect x="39.67" y="466.11" width="8.62" height="4.12" fill="#4149a8" shape-rendering="crispEdges"/>
<rect x="48.30" y="466.11" width="8.62" height="4.12" fill="#6060a4" shape-rendering="crispEdges"/>
<rect x="56.92" y="466.11" width="8.62" height="4.12" fill="#6060a4" shape-rendering="crispEdges"/>
<rect x="65.55" y="466.11" width="8.62" height="4.12" fill="#f6921e" shape-rendering="crispEdges"/>
<rect x="74.17" y="466.11" width="8.62" height="4.12" fill="#f0e326" shape-rendering="crispEdges"/>
<rect x="13.80" y="470.23" width="8.62" height="4.12" fill="#4149a8" shape-rendering="crispEdges"/>
<rect x="22.43" y="470.23" width="8.62" height="4.12" fill="#4149a8" shape-rendering="crispEdges"/>
<rect x="31.05" y="470.23" width="8.62" height="4.12" fill="#4149a8" shape-rendering="crispEdges"/>
<rect x="39.67" y="470.23" width="8.62" height="4.12" fill="#4149a8" shape-rendering="crispEdges"/>
<rect x="48.30" y="470.23" width="8.62" height="4.12" fill="#6060a4" shape-rendering="crispEdges"/>
<rect x="56.92" y="470.23" width="8.62" height="4.12" fill="#4149a8" shape-rendering="crispEdges"/>
<rect x="65.55" y="470.23" width="8.62" height="4.12" fill="#f15c24" shape-rendering="crispEdges"/>
<rect x="74.17" y="470.23" width="8.62" height="4.12" fill="#f0e326" shape-rendering="crispEdges"/>
<rect x="13.80" y="474.34" width="8.62" height="4.12" fill="#4149a8" shape-rendering="crispEdges"/>
<rect x="22.43" y="474.34" width="8.62" height="4.12" fill="#4149a8" shape-rendering="crispEdges"/>
<rect x="31.05" y="474.34" width="8.62" height="4.12" fill="#4149a8" shape-rendering="crispEdges"/>
<rect x="39.67" y="474.34" width="8.62" height="4.12" fill="#4149a8" shape-rendering="crispEdges"/>
<rect x="48.30" y="474.34" width="8.62" height="4.12" fill="#8a8a80" shape-rendering="crispEdges"/>
<rect x="56.92" y="474.34" width="8.62" height="4.12" fill="#6060a4" shape-rendering="crispEdges"/>
<rect x="65.55" y="474.34" width="8.62" height="4.12" fill="#f15c24" shape-rendering="crispEdges"/>
<rect x="74.17" y="474.34" width="8.62" height="4.12" fill="#f0e326" shape-rendering="crispEdges"/>
<rect x="13.80" y="478.45" width="8.62" height="4.12" fill="#4149a8" shape-rendering="crispEdges"/>
<rect x="22.43" y="478.45" width="8.62" height="4.12" fill="#4149a8" shape-rendering="crispEdges"/>
<rect x="31.05" y="478.45" width="8.62" height="4.12" fill="#4149a8" shape-rendering="crispEdges"/>
<rect x="39.67" y="478.45" width="8.62" height="4.12" fill="#4149a8" shape-rendering="crispEdges"/>
<rect x="48.30" y="478.45" width="8.62" height="4.12" fill="#8a8a80" shape-rendering="crispEdges"/>
<rect x="56.92" y="478.45" width="8.62" height="4.12" fill="#6060a4" shape-rendering="crispEdges"/>
<rect x="65.55" y="478.45" width="8.62" height="4.12" fill="#f15c24" shape-rendering="crispEdges"/>
<rect x="74.17" y="478.45" width="8.62" height="4.12" fill="#f0e326" shape-rendering="crispEdges"/>
<rect x="13.80" y="482.57" width="8.62" height="4.12" fill="#4149a8" shape-rendering="crispEdges"/>
<rect x="22.43" y="482.57" width="8.62" height="4.12" fill="#4149a8" shape-rendering="crispEdges"/>
<rect x="31.05" y="482.57" width="8.62" height="4.12" fill="#4149a8" shape-rendering="crispEdges"/>
<rect x="39.67" y="482.57" width="8.62" height="4.12" fill="#4149a8" shape-rendering="crispEdges"/>
<rect x="48.30" y="482.57" width="8.62" height="4.12" fill="#8a8a80" shape-rendering="crispEdges"/>
<rect x="56.92" y="482.57" width="8.62" height="4.12" fill="#6060a4" shape-rendering="crispEdges"/>
<rect x="65.55" y="482.57" width="8.62" height="4.12" fill="#f15c24" shape-rendering="crispEdges"/>
<rect x="74.17" y="482.57" width="8.62" height="4.12" fill="#a09f60" shape-rendering="crispEdges"/>
<rect x="13.80" y="486.69" width="8.62" height="4.12" fill="#4149a8" shape-rendering="crispEdges"/>
<rect x="22.43" y="486.69" width="8.62" height="4.12" fill="#4149a8" shape-rendering="crispEdges"/>
<rect x="31.05" y="486.69" width="8.62" height="4.12" fill="#4149a8" shape-rendering="crispEdges"/>
<rect x="39.67" y="486.69" width="8.62" height="4.12" fill="#4149a8" shape-rendering="crispEdges"/>
<rect x="48.30" y="486.69" width="8.62" height="4.12" fill="#8a8a80" shape-rendering="crispEdges"/>
<rect x="56.92" y="486.69" width="8.62" height="4.12" fill="#6060a4" shape-rendering="crispEdges"/>
<rect x="65.55" y="486.69" width="8.62" height="4.12" fill="#e8232a" shape-rendering="crispEdges"/>
<rect x="74.17" y="486.69" width="8.62" height="4.12" fill="#fbd016" shape-rendering="crispEdges"/>
<line x1="22.43" y1="408.5" x2="22.43" y2="490.8" stroke="rgba(255,255,255,0.22)" stroke-width="0.35"/>
<line x1="31.05" y1="408.5" x2="31.05" y2="490.8" stroke="rgba(255,255,255,0.22)" stroke-width="0.35"/>
<line x1="39.67" y1="408.5" x2="39.67" y2="490.8" stroke="rgba(255,255,255,0.22)" stroke-width="0.35"/>
<line x1="48.3" y1="408.5" x2="48.3" y2="490.8" stroke="rgba(255,255,255,0.22)" stroke-width="0.35"/>
<line x1="56.92" y1="408.5" x2="56.92" y2="490.8" stroke="rgba(255,255,255,0.22)" stroke-width="0.35"/>
<line x1="65.55" y1="408.5" x2="65.55" y2="490.8" stroke="rgba(255,255,255,0.22)" stroke-width="0.35"/>
<line x1="74.17" y1="408.5" x2="74.17" y2="490.8" stroke="rgba(255,255,255,0.22)" stroke-width="0.35"/>
<line x1="13.8" y1="412.62" x2="82.8" y2="412.62" stroke="rgba(255,255,255,0.22)" stroke-width="0.35"/>
<line x1="13.8" y1="416.73" x2="82.8" y2="416.73" stroke="rgba(255,255,255,0.22)" stroke-width="0.35"/>
<line x1="13.8" y1="420.85" x2="82.8" y2="420.85" stroke="rgba(255,255,255,0.22)" stroke-width="0.35"/>
<line x1="13.8" y1="424.96" x2="82.8" y2="424.96" stroke="rgba(255,255,255,0.22)" stroke-width="0.35"/>
<line x1="13.8" y1="429.07" x2="82.8" y2="429.07" stroke="rgba(255,255,255,0.22)" stroke-width="0.35"/>
<line x1="13.8" y1="433.19" x2="82.8" y2="433.19" stroke="rgba(255,255,255,0.22)" stroke-width="0.35"/>
<line x1="13.8" y1="437.31" x2="82.8" y2="437.31" stroke="rgba(255,255,255,0.22)" stroke-width="0.35"/>
<line x1="13.8" y1="441.42" x2="82.8" y2="441.42" stroke="rgba(255,255,255,0.22)" stroke-width="0.35"/>
<line x1="13.8" y1="445.54" x2="82.8" y2="445.54" stroke="rgba(255,255,255,0.22)" stroke-width="0.35"/>
<line x1="13.8" y1="449.65" x2="82.8" y2="449.65" stroke="rgba(255,255,255,0.22)" stroke-width="0.35"/>
<line x1="13.8" y1="453.76" x2="82.8" y2="453.76" stroke="rgba(255,255,255,0.22)" stroke-width="0.35"/>
<line x1="13.8" y1="457.88" x2="82.8" y2="457.88" stroke="rgba(255,255,255,0.22)" stroke-width="0.35"/>
<line x1="13.8" y1="462.0" x2="82.8" y2="462.0" stroke="rgba(255,255,255,0.22)" stroke-width="0.35"/>
<line x1="13.8" y1="466.11" x2="82.8" y2="466.11" stroke="rgba(255,255,255,0.22)" stroke-width="0.35"/>
<line x1="13.8" y1="470.23" x2="82.8" y2="470.23" stroke="rgba(255,255,255,0.22)" stroke-width="0.35"/>
<line x1="13.8" y1="474.34" x2="82.8" y2="474.34" stroke="rgba(255,255,255,0.22)" stroke-width="0.35"/>
<line x1="13.8" y1="478.45" x2="82.8" y2="478.45" stroke="rgba(255,255,255,0.22)" stroke-width="0.35"/>
<line x1="13.8" y1="482.57" x2="82.8" y2="482.57" stroke="rgba(255,255,255,0.22)" stroke-width="0.35"/>
<line x1="13.8" y1="486.69" x2="82.8" y2="486.69" stroke="rgba(255,255,255,0.22)" stroke-width="0.35"/>
<rect x="95.6" y="404.5" width="80.4" height="81.4" fill="none" stroke="#e2e2e2" stroke-width="0.7"/>
<text x="94.9" y="461.2" font-size="5.4" font-weight="bold" font-style="normal" fill="#111" text-anchor="start" textLength="39.4" lengthAdjust="spacingAndGlyphs" transform="rotate(-90 94.9 461.2)" stroke="#111" stroke-width="0.15">Methylation Rate (%)</text>
<text x="118.7" y="490.6" font-size="4.4" font-weight="bold" font-style="normal" fill="#333" text-anchor="middle" textLength="13" lengthAdjust="spacingAndGlyphs">NGCB</text>
<text x="154.5" y="490.6" font-size="4.4" font-weight="bold" font-style="normal" fill="#333" text-anchor="middle">A</text>
<line x1="154.7" y1="424.7" x2="154.7" y2="448.4" stroke="#aaa" stroke-width="0.7"/>
<polygon points="141.40,448.40 141.40,459.40 145.20,463.10 141.40,467.60 141.40,467.60 168.80,467.60 168.80,467.60 164.60,463.10 168.80,459.40 168.80,448.40" fill="#e4612a" stroke="#a8461a" stroke-width="0.7"/>
<line x1="145.2" y1="463.1" x2="164.6" y2="463.1" stroke="#a04010" stroke-width="0.8"/>
<circle cx="154.2" cy="408.2" r="0.45" fill="#333"/>
<circle cx="166.1" cy="408.2" r="0.45" fill="#333"/>
<circle cx="154.2" cy="413.7" r="0.45" fill="#333"/>
<circle cx="147.8" cy="425.6" r="0.45" fill="#333"/>
<circle cx="153.3" cy="426.5" r="0.45" fill="#333"/>
<circle cx="140.5" cy="429.3" r="0.45" fill="#333"/>
<circle cx="163.3" cy="428.9" r="0.45" fill="#333"/>
<circle cx="167.9" cy="429.3" r="0.45" fill="#333"/>
<circle cx="142.3" cy="438.4" r="0.45" fill="#333"/>
<circle cx="158.8" cy="436.6" r="0.45" fill="#333"/>
<circle cx="167.0" cy="439.3" r="0.45" fill="#333"/>
<circle cx="141.4" cy="443.9" r="0.45" fill="#333"/>
<circle cx="157.9" cy="443.9" r="0.45" fill="#333"/>
<circle cx="167.5" cy="445.7" r="0.45" fill="#333"/>
<circle cx="142.3" cy="464.4" r="0.45" fill="#333"/>
<circle cx="167.9" cy="464.4" r="0.45" fill="#333"/>
<circle cx="148.7" cy="470.4" r="0.45" fill="#333"/>
<circle cx="153.3" cy="469.5" r="0.45" fill="#333"/>
<circle cx="142.3" cy="473.1" r="0.45" fill="#333"/>
<circle cx="149.6" cy="473.1" r="0.45" fill="#333"/>
<circle cx="154.2" cy="474.0" r="0.45" fill="#333"/>
<circle cx="157.9" cy="475.0" r="0.45" fill="#333"/>
<circle cx="163.3" cy="472.2" r="0.45" fill="#333"/>
<circle cx="168.8" cy="473.1" r="0.45" fill="#333"/>
<circle cx="153.3" cy="476.8" r="0.45" fill="#333"/>
<circle cx="146.0" cy="451.2" r="0.45" fill="#333"/>
<circle cx="153.3" cy="454.8" r="0.45" fill="#333"/>
<circle cx="160.6" cy="454.8" r="0.45" fill="#333"/>
<circle cx="149.6" cy="458.5" r="0.45" fill="#333"/>
<circle cx="162.4" cy="453.0" r="0.45" fill="#333"/>
<circle cx="145.0" cy="446.0" r="0.45" fill="#333"/>
<circle cx="160.0" cy="447.0" r="0.45" fill="#333"/>
<polygon points="104.50,478.40 104.50,478.90 107.00,480.20 104.50,482.00 104.50,481.40 132.10,481.40 132.10,482.00 130.00,480.20 132.10,478.90 132.10,478.40" fill="#2aa8b0" stroke="#1a7f86" stroke-width="0.7"/>
<line x1="107" y1="480.2" x2="130" y2="480.2" stroke="#333" stroke-width="0.8"/>
<circle cx="117.2" cy="480.2" r="0.45" fill="#1f3f40"/>
<circle cx="130.0" cy="479.9" r="0.45" fill="#1f3f40"/>
<circle cx="118.7" cy="480.3" r="0.45" fill="#1f3f40"/>
<circle cx="110.0" cy="480.0" r="0.45" fill="#1f3f40"/>
<circle cx="122.0" cy="481.2" r="0.45" fill="#1f3f40"/>
<circle cx="107.5" cy="479.2" r="0.45" fill="#1f3f40"/>
<circle cx="107.4" cy="481.2" r="0.45" fill="#1f3f40"/>
<circle cx="123.7" cy="478.2" r="0.45" fill="#1f3f40"/>
<circle cx="131.5" cy="481.9" r="0.45" fill="#1f3f40"/>
<circle cx="122.7" cy="480.5" r="0.45" fill="#1f3f40"/>
<circle cx="109.3" cy="478.1" r="0.45" fill="#1f3f40"/>
<circle cx="119.3" cy="478.2" r="0.45" fill="#1f3f40"/>
<circle cx="110.1" cy="479.0" r="0.45" fill="#1f3f40"/>
<circle cx="105.8" cy="479.9" r="0.45" fill="#1f3f40"/>
<circle cx="116.9" cy="481.4" r="0.45" fill="#1f3f40"/>
<circle cx="119.0" cy="480.6" r="0.45" fill="#1f3f40"/>
<circle cx="118.5" cy="480.6" r="0.45" fill="#1f3f40"/>
<circle cx="117.3" cy="479.1" r="0.45" fill="#1f3f40"/>
<circle cx="131.9" cy="482.0" r="0.45" fill="#1f3f40"/>
<circle cx="127.7" cy="480.8" r="0.45" fill="#1f3f40"/>
<circle cx="113.5" cy="478.9" r="0.45" fill="#1f3f40"/>
<circle cx="112.8" cy="478.3" r="0.45" fill="#1f3f40"/>
<circle cx="125.7" cy="479.6" r="0.45" fill="#1f3f40"/>
<circle cx="127.9" cy="479.5" r="0.45" fill="#1f3f40"/>
<circle cx="130.9" cy="481.4" r="0.45" fill="#1f3f40"/>
<circle cx="105.0" cy="478.8" r="0.45" fill="#1f3f40"/>
<circle cx="129.6" cy="479.9" r="0.45" fill="#1f3f40"/>
<circle cx="131.5" cy="479.6" r="0.45" fill="#1f3f40"/>
<circle cx="107.0" cy="480.5" r="0.45" fill="#1f3f40"/>
<circle cx="126.0" cy="479.1" r="0.45" fill="#1f3f40"/>
<circle cx="107.4" cy="479.3" r="0.45" fill="#1f3f40"/>
<circle cx="131.0" cy="481.0" r="0.45" fill="#1f3f40"/>
<circle cx="108.2" cy="479.0" r="0.45" fill="#1f3f40"/>
<circle cx="107.7" cy="478.2" r="0.45" fill="#1f3f40"/>
<circle cx="126.5" cy="478.7" r="0.45" fill="#1f3f40"/>
<circle cx="120.1" cy="479.8" r="0.45" fill="#1f3f40"/>
<circle cx="110.1" cy="480.9" r="0.45" fill="#1f3f40"/>
<circle cx="108.5" cy="480.6" r="0.45" fill="#1f3f40"/>
<circle cx="108.1" cy="479.7" r="0.45" fill="#1f3f40"/>
<circle cx="110.7" cy="479.1" r="0.45" fill="#1f3f40"/>
<circle cx="131.2" cy="476.8" r="0.45" fill="#1f3f40"/>
<circle cx="113.2" cy="477.3" r="0.45" fill="#1f3f40"/>
<circle cx="110.7" cy="474.4" r="0.45" fill="#1f3f40"/>
<circle cx="128.1" cy="475.9" r="0.45" fill="#1f3f40"/>
<circle cx="107.7" cy="477.9" r="0.45" fill="#1f3f40"/>
<circle cx="110.8" cy="473.5" r="0.45" fill="#1f3f40"/>
<circle cx="125.9" cy="474.0" r="0.45" fill="#1f3f40"/>
<circle cx="113.0" cy="472.4" r="0.45" fill="#1f3f40"/>
<circle cx="107.4" cy="475.5" r="0.45" fill="#1f3f40"/>
<circle cx="111.6" cy="475.6" r="0.45" fill="#1f3f40"/>
<circle cx="115.0" cy="474.7" r="0.45" fill="#1f3f40"/>
<circle cx="130.9" cy="474.9" r="0.45" fill="#1f3f40"/>
<circle cx="120.5" cy="477.2" r="0.45" fill="#1f3f40"/>
<circle cx="109.9" cy="472.9" r="0.45" fill="#1f3f40"/>
<circle cx="129.5" cy="483.6" r="0.45" fill="#1f3f40"/>
<circle cx="111.7" cy="482.4" r="0.45" fill="#1f3f40"/>
<circle cx="125.0" cy="483.9" r="0.45" fill="#1f3f40"/>
<circle cx="110.3" cy="483.9" r="0.45" fill="#1f3f40"/>
<circle cx="128.8" cy="483.2" r="0.45" fill="#1f3f40"/>
<circle cx="116.4" cy="482.2" r="0.45" fill="#1f3f40"/>
<text x="182.3" y="372.7" font-size="11.5" font-weight="bold" font-style="normal" fill="#111" text-anchor="start" stroke="#111" stroke-width="0.35">D</text>
<text x="257.6" y="373.8" font-size="10.6" font-weight="bold" font-style="italic" fill="#111" text-anchor="start" textLength="28.2" lengthAdjust="spacingAndGlyphs" stroke="#111" stroke-width="0.15">WNT2</text>
<rect x="318.40" y="384.90" width="16.60" height="3.00" fill="#000"/>
<rect x="322.60" y="391.80" width="16.40" height="2.50" fill="#e2168c"/>
<line x1="184.4" y1="399.3" x2="318" y2="399.3" stroke="#7a7ab0" stroke-width="0.8"/>
<rect x="245.80" y="398.20" width="5.70" height="2.40" fill="#252a78"/>
<rect x="307.80" y="398.20" width="9.40" height="2.40" fill="#252a78"/>
<text x="203.5" y="406.7" font-size="5.0" font-weight="bold" font-style="normal" fill="#111" text-anchor="start" textLength="13.9" lengthAdjust="spacingAndGlyphs" stroke="#111" stroke-width="0.2">NGCB</text>
<text x="242.5" y="406.7" font-size="5.0" font-weight="bold" font-style="normal" fill="#111" text-anchor="start" textLength="25" lengthAdjust="spacingAndGlyphs" stroke="#111" stroke-width="0.2">Cluster C</text>
<rect x="193.70" y="408.30" width="38.40" height="2.50" fill="#2bb4ba"/>
<rect x="232.10" y="408.30" width="38.40" height="2.50" fill="#7b6fb6"/>
<rect x="186.20" y="411.50" width="5.60" height="77.00" fill="#e0148c"/>
<rect x="193.70" y="411.20" width="9.60" height="3.84" fill="#4149a8" shape-rendering="crispEdges"/>
<rect x="203.30" y="411.20" width="9.60" height="3.84" fill="#4149a8" shape-rendering="crispEdges"/>
<rect x="212.90" y="411.20" width="9.60" height="3.84" fill="#76769a" shape-rendering="crispEdges"/>
<rect x="222.50" y="411.20" width="9.60" height="3.84" fill="#4149a8" shape-rendering="crispEdges"/>
<rect x="232.10" y="411.20" width="9.60" height="3.84" fill="#f0e326" shape-rendering="crispEdges"/>
<rect x="241.70" y="411.20" width="9.60" height="3.84" fill="#e8232a" shape-rendering="crispEdges"/>
<rect x="251.30" y="411.20" width="9.60" height="3.84" fill="#e8232a" shape-rendering="crispEdges"/>
<rect x="260.90" y="411.20" width="9.60" height="3.84" fill="#4149a8" shape-rendering="crispEdges"/>
<rect x="193.70" y="415.04" width="9.60" height="3.84" fill="#4149a8" shape-rendering="crispEdges"/>
<rect x="203.30" y="415.04" width="9.60" height="3.84" fill="#4149a8" shape-rendering="crispEdges"/>
<rect x="212.90" y="415.04" width="9.60" height="3.84" fill="#76769a" shape-rendering="crispEdges"/>
<rect x="222.50" y="415.04" width="9.60" height="3.84" fill="#4149a8" shape-rendering="crispEdges"/>
<rect x="232.10" y="415.04" width="9.60" height="3.84" fill="#a09f60" shape-rendering="crispEdges"/>
<rect x="241.70" y="415.04" width="9.60" height="3.84" fill="#e8232a" shape-rendering="crispEdges"/>
<rect x="251.30" y="415.04" width="9.60" height="3.84" fill="#e8232a" shape-rendering="crispEdges"/>
<rect x="260.90" y="415.04" width="9.60" height="3.84" fill="#4149a8" shape-rendering="crispEdges"/>
<rect x="193.70" y="418.88" width="9.60" height="3.84" fill="#4149a8" shape-rendering="crispEdges"/>
<rect x="203.30" y="418.88" width="9.60" height="3.84" fill="#4149a8" shape-rendering="crispEdges"/>
<rect x="212.90" y="418.88" width="9.60" height="3.84" fill="#76769a" shape-rendering="crispEdges"/>
<rect x="222.50" y="418.88" width="9.60" height="3.84" fill="#4149a8" shape-rendering="crispEdges"/>
<rect x="232.10" y="418.88" width="9.60" height="3.84" fill="#a09f60" shape-rendering="crispEdges"/>
<rect x="241.70" y="418.88" width="9.60" height="3.84" fill="#e8232a" shape-rendering="crispEdges"/>
<rect x="251.30" y="418.88" width="9.60" height="3.84" fill="#e8232a" shape-rendering="crispEdges"/>
<rect x="260.90" y="418.88" width="9.60" height="3.84" fill="#4149a8" shape-rendering="crispEdges"/>
<rect x="193.70" y="422.72" width="9.60" height="3.84" fill="#4149a8" shape-rendering="crispEdges"/>
<rect x="203.30" y="422.72" width="9.60" height="3.84" fill="#4149a8" shape-rendering="crispEdges"/>
<rect x="212.90" y="422.72" width="9.60" height="3.84" fill="#76769a" shape-rendering="crispEdges"/>
<rect x="222.50" y="422.72" width="9.60" height="3.84" fill="#ffffff" shape-rendering="crispEdges"/>
<rect x="232.10" y="422.72" width="9.60" height="3.84" fill="#f6921e" shape-rendering="crispEdges"/>
<rect x="241.70" y="422.72" width="9.60" height="3.84" fill="#e8232a" shape-rendering="crispEdges"/>
<rect x="251.30" y="422.72" width="9.60" height="3.84" fill="#e8232a" shape-rendering="crispEdges"/>
<rect x="260.90" y="422.72" width="9.60" height="3.84" fill="#4149a8" shape-rendering="crispEdges"/>
<rect x="193.70" y="426.56" width="9.60" height="3.84" fill="#4149a8" shape-rendering="crispEdges"/>
<rect x="203.30" y="426.56" width="9.60" height="3.84" fill="#4149a8" shape-rendering="crispEdges"/>
<rect x="212.90" y="426.56" width="9.60" height="3.84" fill="#4149a8" shape-rendering="crispEdges"/>
<rect x="222.50" y="426.56" width="9.60" height="3.84" fill="#4149a8" shape-rendering="crispEdges"/>
<rect x="232.10" y="426.56" width="9.60" height="3.84" fill="#a09f60" shape-rendering="crispEdges"/>
<rect x="241.70" y="426.56" width="9.60" height="3.84" fill="#e8232a" shape-rendering="crispEdges"/>
<rect x="251.30" y="426.56" width="9.60" height="3.84" fill="#e8232a" shape-rendering="crispEdges"/>
<rect x="260.90" y="426.56" width="9.60" height="3.84" fill="#4149a8" shape-rendering="crispEdges"/>
<rect x="193.70" y="430.40" width="9.60" height="3.84" fill="#4149a8" shape-rendering="crispEdges"/>
<rect x="203.30" y="430.40" width="9.60" height="3.84" fill="#4149a8" shape-rendering="crispEdges"/>
<rect x="212.90" y="430.40" width="9.60" height="3.84" fill="#4149a8" shape-rendering="crispEdges"/>
<rect x="222.50" y="430.40" width="9.60" height="3.84" fill="#4149a8" shape-rendering="crispEdges"/>
<rect x="232.10" y="430.40" width="9.60" height="3.84" fill="#f0e326" shape-rendering="crispEdges"/>
<rect x="241.70" y="430.40" width="9.60" height="3.84" fill="#e8232a" shape-rendering="crispEdges"/>
<rect x="251.30" y="430.40" width="9.60" height="3.84" fill="#e8232a" shape-rendering="crispEdges"/>
<rect x="260.90" y="430.40" width="9.60" height="3.84" fill="#4149a8" shape-rendering="crispEdges"/>
<rect x="193.70" y="434.24" width="9.60" height="3.84" fill="#4149a8" shape-rendering="crispEdges"/>
<rect x="203.30" y="434.24" width="9.60" height="3.84" fill="#4149a8" shape-rendering="crispEdges"/>
<rect x="212.90" y="434.24" width="9.60" height="3.84" fill="#4149a8" shape-rendering="crispEdges"/>
<rect x="222.50" y="434.24" width="9.60" height="3.84" fill="#4149a8" shape-rendering="crispEdges"/>
<rect x="232.10" y="434.24" width="9.60" height="3.84" fill="#f0e326" shape-rendering="crispEdges"/>
<rect x="241.70" y="434.24" width="9.60" height="3.84" fill="#fbd016" shape-rendering="crispEdges"/>
<rect x="251.30" y="434.24" width="9.60" height="3.84" fill="#fbd016" shape-rendering="crispEdges"/>
<rect x="260.90" y="434.24" width="9.60" height="3.84" fill="#4149a8" shape-rendering="crispEdges"/>
<rect x="193.70" y="438.08" width="9.60" height="3.84" fill="#4149a8" shape-rendering="crispEdges"/>
<rect x="203.30" y="438.08" width="9.60" height="3.84" fill="#4149a8" shape-rendering="crispEdges"/>
<rect x="212.90" y="438.08" width="9.60" height="3.84" fill="#4149a8" shape-rendering="crispEdges"/>
<rect x="222.50" y="438.08" width="9.60" height="3.84" fill="#4149a8" shape-rendering="crispEdges"/>
<rect x="232.10" y="438.08" width="9.60" height="3.84" fill="#f0e326" shape-rendering="crispEdges"/>
<rect x="241.70" y="438.08" width="9.60" height="3.84" fill="#e8232a" shape-rendering="crispEdges"/>
<rect x="251.30" y="438.08" width="9.60" height="3.84" fill="#e8232a" shape-rendering="crispEdges"/>
<rect x="260.90" y="438.08" width="9.60" height="3.84" fill="#4149a8" shape-rendering="crispEdges"/>
<rect x="193.70" y="441.92" width="9.60" height="3.84" fill="#4149a8" shape-rendering="crispEdges"/>
<rect x="203.30" y="441.92" width="9.60" height="3.84" fill="#4149a8" shape-rendering="crispEdges"/>
<rect x="212.90" y="441.92" width="9.60" height="3.84" fill="#4149a8" shape-rendering="crispEdges"/>
<rect x="222.50" y="441.92" width="9.60" height="3.84" fill="#4149a8" shape-rendering="crispEdges"/>
<rect x="232.10" y="441.92" width="9.60" height="3.84" fill="#f0e326" shape-rendering="crispEdges"/>
<rect x="241.70" y="441.92" width="9.60" height="3.84" fill="#e8232a" shape-rendering="crispEdges"/>
<rect x="251.30" y="441.92" width="9.60" height="3.84" fill="#e8232a" shape-rendering="crispEdges"/>
<rect x="260.90" y="441.92" width="9.60" height="3.84" fill="#4149a8" shape-rendering="crispEdges"/>
<rect x="193.70" y="445.76" width="9.60" height="3.84" fill="#4149a8" shape-rendering="crispEdges"/>
<rect x="203.30" y="445.76" width="9.60" height="3.84" fill="#4149a8" shape-rendering="crispEdges"/>
<rect x="212.90" y="445.76" width="9.60" height="3.84" fill="#8a8a80" shape-rendering="crispEdges"/>
<rect x="222.50" y="445.76" width="9.60" height="3.84" fill="#4149a8" shape-rendering="crispEdges"/>
<rect x="232.10" y="445.76" width="9.60" height="3.84" fill="#f0e326" shape-rendering="crispEdges"/>
<rect x="241.70" y="445.76" width="9.60" height="3.84" fill="#f15c24" shape-rendering="crispEdges"/>
<rect x="251.30" y="445.76" width="9.60" height="3.84" fill="#f15c24" shape-rendering="crispEdges"/>
<rect x="260.90" y="445.76" width="9.60" height="3.84" fill="#4149a8" shape-rendering="crispEdges"/>
<rect x="193.70" y="449.60" width="9.60" height="3.84" fill="#4149a8" shape-rendering="crispEdges"/>
<rect x="203.30" y="449.60" width="9.60" height="3.84" fill="#4149a8" shape-rendering="crispEdges"/>
<rect x="212.90" y="449.60" width="9.60" height="3.84" fill="#4149a8" shape-rendering="crispEdges"/>
<rect x="222.50" y="449.60" width="9.60" height="3.84" fill="#4149a8" shape-rendering="crispEdges"/>
<rect x="232.10" y="449.60" width="9.60" height="3.84" fill="#a09f60" shape-rendering="crispEdges"/>
<rect x="241.70" y="449.60" width="9.60" height="3.84" fill="#4149a8" shape-rendering="crispEdges"/>
<rect x="251.30" y="449.60" width="9.60" height="3.84" fill="#4149a8" shape-rendering="crispEdges"/>
<rect x="260.90" y="449.60" width="9.60" height="3.84" fill="#4149a8" shape-rendering="crispEdges"/>
<rect x="193.70" y="453.44" width="9.60" height="3.84" fill="#4149a8" shape-rendering="crispEdges"/>
<rect x="203.30" y="453.44" width="9.60" height="3.84" fill="#4149a8" shape-rendering="crispEdges"/>
<rect x="212.90" y="453.44" width="9.60" height="3.84" fill="#4149a8" shape-rendering="crispEdges"/>
<rect x="222.50" y="453.44" width="9.60" height="3.84" fill="#4149a8" shape-rendering="crispEdges"/>
<rect x="232.10" y="453.44" width="9.60" height="3.84" fill="#f0e326" shape-rendering="crispEdges"/>
<rect x="241.70" y="453.44" width="9.60" height="3.84" fill="#e8232a" shape-rendering="crispEdges"/>
<rect x="251.30" y="453.44" width="9.60" height="3.84" fill="#e8232a" shape-rendering="crispEdges"/>
<rect x="260.90" y="453.44" width="9.60" height="3.84" fill="#4149a8" shape-rendering="crispEdges"/>
<rect x="193.70" y="457.28" width="9.60" height="3.84" fill="#4149a8" shape-rendering="crispEdges"/>
<rect x="203.30" y="457.28" width="9.60" height="3.84" fill="#4149a8" shape-rendering="crispEdges"/>
<rect x="212.90" y="457.28" width="9.60" height="3.84" fill="#a09f60" shape-rendering="crispEdges"/>
<rect x="222.50" y="457.28" width="9.60" height="3.84" fill="#4149a8" shape-rendering="crispEdges"/>
<rect x="232.10" y="457.28" width="9.60" height="3.84" fill="#f0e326" shape-rendering="crispEdges"/>
<rect x="241.70" y="457.28" width="9.60" height="3.84" fill="#e8232a" shape-rendering="crispEdges"/>
<rect x="251.30" y="457.28" width="9.60" height="3.84" fill="#e8232a" shape-rendering="crispEdges"/>
<rect x="260.90" y="457.28" width="9.60" height="3.84" fill="#4149a8" shape-rendering="crispEdges"/>
<rect x="193.70" y="461.12" width="9.60" height="3.84" fill="#4149a8" shape-rendering="crispEdges"/>
<rect x="203.30" y="461.12" width="9.60" height="3.84" fill="#4149a8" shape-rendering="crispEdges"/>
<rect x="212.90" y="461.12" width="9.60" height="3.84" fill="#4149a8" shape-rendering="crispEdges"/>
<rect x="222.50" y="461.12" width="9.60" height="3.84" fill="#4149a8" shape-rendering="crispEdges"/>
<rect x="232.10" y="461.12" width="9.60" height="3.84" fill="#f0e326" shape-rendering="crispEdges"/>
<rect x="241.70" y="461.12" width="9.60" height="3.84" fill="#e8232a" shape-rendering="crispEdges"/>
<rect x="251.30" y="461.12" width="9.60" height="3.84" fill="#e8232a" shape-rendering="crispEdges"/>
<rect x="260.90" y="461.12" width="9.60" height="3.84" fill="#4149a8" shape-rendering="crispEdges"/>
<rect x="193.70" y="464.96" width="9.60" height="3.84" fill="#8a8a80" shape-rendering="crispEdges"/>
<rect x="203.30" y="464.96" width="9.60" height="3.84" fill="#4149a8" shape-rendering="crispEdges"/>
<rect x="212.90" y="464.96" width="9.60" height="3.84" fill="#8a8a80" shape-rendering="crispEdges"/>
<rect x="222.50" y="464.96" width="9.60" height="3.84" fill="#4149a8" shape-rendering="crispEdges"/>
<rect x="232.10" y="464.96" width="9.60" height="3.84" fill="#ffffff" shape-rendering="crispEdges"/>
<rect x="241.70" y="464.96" width="9.60" height="3.84" fill="#ffffff" shape-rendering="crispEdges"/>
<rect x="251.30" y="464.96" width="9.60" height="3.84" fill="#e8232a" shape-rendering="crispEdges"/>
<rect x="260.90" y="464.96" width="9.60" height="3.84" fill="#4149a8" shape-rendering="crispEdges"/>
<rect x="193.70" y="468.80" width="9.60" height="3.84" fill="#8a8a80" shape-rendering="crispEdges"/>
<rect x="203.30" y="468.80" width="9.60" height="3.84" fill="#4149a8" shape-rendering="crispEdges"/>
<rect x="212.90" y="468.80" width="9.60" height="3.84" fill="#8a8a80" shape-rendering="crispEdges"/>
<rect x="222.50" y="468.80" width="9.60" height="3.84" fill="#4149a8" shape-rendering="crispEdges"/>
<rect x="232.10" y="468.80" width="9.60" height="3.84" fill="#fbd016" shape-rendering="crispEdges"/>
<rect x="241.70" y="468.80" width="9.60" height="3.84" fill="#e8232a" shape-rendering="crispEdges"/>
<rect x="251.30" y="468.80" width="9.60" height="3.84" fill="#e8232a" shape-rendering="crispEdges"/>
<rect x="260.90" y="468.80" width="9.60" height="3.84" fill="#4149a8" shape-rendering="crispEdges"/>
<rect x="193.70" y="472.64" width="9.60" height="3.84" fill="#4149a8" shape-rendering="crispEdges"/>
<rect x="203.30" y="472.64" width="9.60" height="3.84" fill="#4149a8" shape-rendering="crispEdges"/>
<rect x="212.90" y="472.64" width="9.60" height="3.84" fill="#4149a8" shape-rendering="crispEdges"/>
<rect x="222.50" y="472.64" width="9.60" height="3.84" fill="#4149a8" shape-rendering="crispEdges"/>
<rect x="232.10" y="472.64" width="9.60" height="3.84" fill="#fbd016" shape-rendering="crispEdges"/>
<rect x="241.70" y="472.64" width="9.60" height="3.84" fill="#e8232a" shape-rendering="crispEdges"/>
<rect x="251.30" y="472.64" width="9.60" height="3.84" fill="#e8232a" shape-rendering="crispEdges"/>
<rect x="260.90" y="472.64" width="9.60" height="3.84" fill="#4149a8" shape-rendering="crispEdges"/>
<rect x="193.70" y="476.48" width="9.60" height="3.84" fill="#4149a8" shape-rendering="crispEdges"/>
<rect x="203.30" y="476.48" width="9.60" height="3.84" fill="#4149a8" shape-rendering="crispEdges"/>
<rect x="212.90" y="476.48" width="9.60" height="3.84" fill="#4149a8" shape-rendering="crispEdges"/>
<rect x="222.50" y="476.48" width="9.60" height="3.84" fill="#4149a8" shape-rendering="crispEdges"/>
<rect x="232.10" y="476.48" width="9.60" height="3.84" fill="#f0e326" shape-rendering="crispEdges"/>
<rect x="241.70" y="476.48" width="9.60" height="3.84" fill="#e8232a" shape-rendering="crispEdges"/>
<rect x="251.30" y="476.48" width="9.60" height="3.84" fill="#fbd016" shape-rendering="crispEdges"/>
<rect x="260.90" y="476.48" width="9.60" height="3.84" fill="#4149a8" shape-rendering="crispEdges"/>
<rect x="193.70" y="480.32" width="9.60" height="3.84" fill="#4149a8" shape-rendering="crispEdges"/>
<rect x="203.30" y="480.32" width="9.60" height="3.84" fill="#4149a8" shape-rendering="crispEdges"/>
<rect x="212.90" y="480.32" width="9.60" height="3.84" fill="#4149a8" shape-rendering="crispEdges"/>
<rect x="222.50" y="480.32" width="9.60" height="3.84" fill="#4149a8" shape-rendering="crispEdges"/>
<rect x="232.10" y="480.32" width="9.60" height="3.84" fill="#f0e326" shape-rendering="crispEdges"/>
<rect x="241.70" y="480.32" width="9.60" height="3.84" fill="#e8232a" shape-rendering="crispEdges"/>
<rect x="251.30" y="480.32" width="9.60" height="3.84" fill="#fbd016" shape-rendering="crispEdges"/>
<rect x="260.90" y="480.32" width="9.60" height="3.84" fill="#4149a8" shape-rendering="crispEdges"/>
<rect x="193.70" y="484.16" width="9.60" height="3.84" fill="#4149a8" shape-rendering="crispEdges"/>
<rect x="203.30" y="484.16" width="9.60" height="3.84" fill="#4149a8" shape-rendering="crispEdges"/>
<rect x="212.90" y="484.16" width="9.60" height="3.84" fill="#4149a8" shape-rendering="crispEdges"/>
<rect x="222.50" y="484.16" width="9.60" height="3.84" fill="#4149a8" shape-rendering="crispEdges"/>
<rect x="232.10" y="484.16" width="9.60" height="3.84" fill="#f0e326" shape-rendering="crispEdges"/>
<rect x="241.70" y="484.16" width="9.60" height="3.84" fill="#e8232a" shape-rendering="crispEdges"/>
<rect x="251.30" y="484.16" width="9.60" height="3.84" fill="#fbd016" shape-rendering="crispEdges"/>
<rect x="260.90" y="484.16" width="9.60" height="3.84" fill="#4149a8" shape-rendering="crispEdges"/>
<line x1="203.3" y1="411.2" x2="203.3" y2="488.0" stroke="rgba(255,255,255,0.22)" stroke-width="0.35"/>
<line x1="212.9" y1="411.2" x2="212.9" y2="488.0" stroke="rgba(255,255,255,0.22)" stroke-width="0.35"/>
<line x1="222.5" y1="411.2" x2="222.5" y2="488.0" stroke="rgba(255,255,255,0.22)" stroke-width="0.35"/>
<line x1="232.1" y1="411.2" x2="232.1" y2="488.0" stroke="rgba(255,255,255,0.22)" stroke-width="0.35"/>
<line x1="241.7" y1="411.2" x2="241.7" y2="488.0" stroke="rgba(255,255,255,0.22)" stroke-width="0.35"/>
<line x1="251.3" y1="411.2" x2="251.3" y2="488.0" stroke="rgba(255,255,255,0.22)" stroke-width="0.35"/>
<line x1="260.9" y1="411.2" x2="260.9" y2="488.0" stroke="rgba(255,255,255,0.22)" stroke-width="0.35"/>
<line x1="193.7" y1="415.04" x2="270.5" y2="415.04" stroke="rgba(255,255,255,0.22)" stroke-width="0.35"/>
<line x1="193.7" y1="418.88" x2="270.5" y2="418.88" stroke="rgba(255,255,255,0.22)" stroke-width="0.35"/>
<line x1="193.7" y1="422.72" x2="270.5" y2="422.72" stroke="rgba(255,255,255,0.22)" stroke-width="0.35"/>
<line x1="193.7" y1="426.56" x2="270.5" y2="426.56" stroke="rgba(255,255,255,0.22)" stroke-width="0.35"/>
<line x1="193.7" y1="430.4" x2="270.5" y2="430.4" stroke="rgba(255,255,255,0.22)" stroke-width="0.35"/>
<line x1="193.7" y1="434.24" x2="270.5" y2="434.24" stroke="rgba(255,255,255,0.22)" stroke-width="0.35"/>
<line x1="193.7" y1="438.08" x2="270.5" y2="438.08" stroke="rgba(255,255,255,0.22)" stroke-width="0.35"/>
<line x1="193.7" y1="441.92" x2="270.5" y2="441.92" stroke="rgba(255,255,255,0.22)" stroke-width="0.35"/>
<line x1="193.7" y1="445.76" x2="270.5" y2="445.76" stroke="rgba(255,255,255,0.22)" stroke-width="0.35"/>
<line x1="193.7" y1="449.6" x2="270.5" y2="449.6" stroke="rgba(255,255,255,0.22)" stroke-width="0.35"/>
<line x1="193.7" y1="453.44" x2="270.5" y2="453.44" stroke="rgba(255,255,255,0.22)" stroke-width="0.35"/>
<line x1="193.7" y1="457.28" x2="270.5" y2="457.28" stroke="rgba(255,255,255,0.22)" stroke-width="0.35"/>
<line x1="193.7" y1="461.12" x2="270.5" y2="461.12" stroke="rgba(255,255,255,0.22)" stroke-width="0.35"/>
<line x1="193.7" y1="464.96" x2="270.5" y2="464.96" stroke="rgba(255,255,255,0.22)" stroke-width="0.35"/>
<line x1="193.7" y1="468.8" x2="270.5" y2="468.8" stroke="rgba(255,255,255,0.22)" stroke-width="0.35"/>
<line x1="193.7" y1="472.64" x2="270.5" y2="472.64" stroke="rgba(255,255,255,0.22)" stroke-width="0.35"/>
<line x1="193.7" y1="476.48" x2="270.5" y2="476.48" stroke="rgba(255,255,255,0.22)" stroke-width="0.35"/>
<line x1="193.7" y1="480.32" x2="270.5" y2="480.32" stroke="rgba(255,255,255,0.22)" stroke-width="0.35"/>
<line x1="193.7" y1="484.16" x2="270.5" y2="484.16" stroke="rgba(255,255,255,0.22)" stroke-width="0.35"/>
<rect x="282.3" y="404.1" width="78.4" height="80.4" fill="none" stroke="#e2e2e2" stroke-width="0.7"/>
<text x="278.6" y="465.1" font-size="5.6" font-weight="bold" font-style="normal" fill="#111" text-anchor="start" textLength="42.0" lengthAdjust="spacingAndGlyphs" transform="rotate(-90 278.6 465.1)" stroke="#111" stroke-width="0.15">Methylation Rate (%)</text>
<text x="303.4" y="489.7" font-size="4.3" font-weight="bold" font-style="normal" fill="#333" text-anchor="middle" textLength="13.1" lengthAdjust="spacingAndGlyphs">NGCB</text>
<text x="340.3" y="489.7" font-size="4.3" font-weight="bold" font-style="normal" fill="#333" text-anchor="middle">C</text>
<polygon points="326.50,413.20 326.50,431.50 330.90,439.30 326.50,449.50 326.50,471.30 353.40,471.30 353.40,449.50 347.90,439.30 353.40,431.50 353.40,413.20" fill="#7a6cb9" stroke="#5b4f98" stroke-width="0.7"/>
<line x1="330.9" y1="439.3" x2="347.9" y2="439.3" stroke="#333" stroke-width="0.8"/>
<polygon points="290.30,469.80 290.30,471.00 293.30,474.00 290.30,477.70 290.30,476.50 317.70,476.50 317.70,477.70 314.70,474.00 317.70,471.00 317.70,469.80" fill="#2cc0ca" stroke="#1f9aa3" stroke-width="0.7"/>
<line x1="293.3" y1="474.0" x2="314.7" y2="474.0" stroke="#333" stroke-width="0.8"/>
<circle cx="339.3" cy="410.8" r="0.45" fill="#333"/>
<circle cx="344.3" cy="407.4" r="0.45" fill="#333"/>
<circle cx="327.3" cy="408.9" r="0.45" fill="#333"/>
<circle cx="334.1" cy="411.8" r="0.45" fill="#333"/>
<circle cx="345.0" cy="410.4" r="0.45" fill="#333"/>
<circle cx="341.5" cy="410.8" r="0.45" fill="#333"/>
<circle cx="330.8" cy="409.4" r="0.45" fill="#333"/>
<circle cx="331.2" cy="412.4" r="0.45" fill="#333"/>
<circle cx="328.5" cy="411.8" r="0.45" fill="#333"/>
<circle cx="328.9" cy="411.0" r="0.45" fill="#333"/>
<circle cx="335.8" cy="409.1" r="0.45" fill="#333"/>
<circle cx="348.9" cy="406.6" r="0.45" fill="#333"/>
<circle cx="328.6" cy="412.4" r="0.45" fill="#333"/>
<circle cx="340.2" cy="407.1" r="0.45" fill="#333"/>
<circle cx="352.7" cy="412.7" r="0.45" fill="#333"/>
<circle cx="329.9" cy="409.3" r="0.45" fill="#333"/>
<circle cx="331.2" cy="431.5" r="0.45" fill="#333"/>
<circle cx="342.9" cy="423.2" r="0.45" fill="#333"/>
<circle cx="344.7" cy="416.9" r="0.45" fill="#333"/>
<circle cx="332.1" cy="459.7" r="0.45" fill="#333"/>
<circle cx="337.6" cy="437.5" r="0.45" fill="#333"/>
<circle cx="342.3" cy="440.7" r="0.45" fill="#333"/>
<circle cx="337.2" cy="415.7" r="0.45" fill="#333"/>
<circle cx="345.4" cy="468.2" r="0.45" fill="#333"/>
<circle cx="351.4" cy="451.2" r="0.45" fill="#333"/>
<circle cx="336.6" cy="434.3" r="0.45" fill="#333"/>
<circle cx="344.6" cy="451.7" r="0.45" fill="#333"/>
<circle cx="330.7" cy="427.2" r="0.45" fill="#333"/>
<circle cx="336.7" cy="442.6" r="0.45" fill="#333"/>
<circle cx="347.4" cy="442.0" r="0.45" fill="#333"/>
<circle cx="328.7" cy="460.1" r="0.45" fill="#333"/>
<circle cx="338.3" cy="443.1" r="0.45" fill="#333"/>
<circle cx="332.8" cy="475.6" r="0.45" fill="#333"/>
<circle cx="337.1" cy="478.8" r="0.45" fill="#333"/>
<circle cx="329.7" cy="476.7" r="0.45" fill="#333"/>
<circle cx="331.6" cy="478.1" r="0.45" fill="#333"/>
<circle cx="328.0" cy="474.1" r="0.45" fill="#333"/>
<circle cx="335.9" cy="477.6" r="0.45" fill="#333"/>
<circle cx="328.4" cy="475.9" r="0.45" fill="#333"/>
<circle cx="332.4" cy="474.2" r="0.45" fill="#333"/>
<circle cx="339.4" cy="480.6" r="0.45" fill="#333"/>
<circle cx="339.5" cy="480.6" r="0.45" fill="#333"/>
<circle cx="331.4" cy="480.3" r="0.45" fill="#333"/>
<circle cx="336.5" cy="473.3" r="0.45" fill="#333"/>
<circle cx="346.5" cy="480.2" r="0.45" fill="#333"/>
<circle cx="327.2" cy="474.0" r="0.45" fill="#333"/>
<circle cx="347.0" cy="474.7" r="0.45" fill="#333"/>
<circle cx="333.3" cy="471.6" r="0.45" fill="#333"/>
<circle cx="292.0" cy="464.7" r="0.45" fill="#333"/>
<circle cx="316.6" cy="469.5" r="0.45" fill="#333"/>
<circle cx="304.1" cy="457.3" r="0.45" fill="#333"/>
<circle cx="299.4" cy="466.8" r="0.45" fill="#333"/>
<circle cx="312.6" cy="465.0" r="0.45" fill="#333"/>
<circle cx="297.0" cy="463.6" r="0.45" fill="#333"/>
<circle cx="303.4" cy="464.8" r="0.45" fill="#333"/>
<circle cx="297.8" cy="468.8" r="0.45" fill="#333"/>
<circle cx="314.3" cy="459.0" r="0.45" fill="#333"/>
<circle cx="298.6" cy="467.9" r="0.45" fill="#333"/>
<circle cx="298.2" cy="468.8" r="0.45" fill="#333"/>
<circle cx="304.4" cy="465.7" r="0.45" fill="#333"/>
<circle cx="309.3" cy="459.7" r="0.45" fill="#333"/>
<circle cx="298.4" cy="460.2" r="0.45" fill="#333"/>
<circle cx="308.8" cy="465.7" r="0.45" fill="#333"/>
<circle cx="294.4" cy="468.1" r="0.45" fill="#333"/>
<circle cx="301.9" cy="471.9" r="0.45" fill="#333"/>
<circle cx="302.3" cy="477.8" r="0.45" fill="#333"/>
<circle cx="305.6" cy="475.0" r="0.45" fill="#333"/>
<circle cx="314.9" cy="477.7" r="0.45" fill="#333"/>
<circle cx="310.8" cy="473.3" r="0.45" fill="#333"/>
<circle cx="306.3" cy="477.2" r="0.45" fill="#333"/>
<circle cx="311.5" cy="474.6" r="0.45" fill="#333"/>
<circle cx="300.0" cy="472.9" r="0.45" fill="#333"/>
<circle cx="310.1" cy="474.5" r="0.45" fill="#333"/>
<circle cx="291.4" cy="475.7" r="0.45" fill="#333"/>
<circle cx="314.5" cy="476.4" r="0.45" fill="#333"/>
<circle cx="314.3" cy="477.3" r="0.45" fill="#333"/>
<circle cx="304.9" cy="476.3" r="0.45" fill="#333"/>
<circle cx="300.9" cy="470.8" r="0.45" fill="#333"/>
<circle cx="300.2" cy="472.5" r="0.45" fill="#333"/>
<circle cx="315.3" cy="475.5" r="0.45" fill="#333"/>
<circle cx="305.1" cy="475.0" r="0.45" fill="#333"/>
<circle cx="294.2" cy="474.3" r="0.45" fill="#333"/>
<circle cx="309.2" cy="473.2" r="0.45" fill="#333"/>
<circle cx="297.4" cy="473.3" r="0.45" fill="#333"/>
<circle cx="299.4" cy="475.5" r="0.45" fill="#333"/>
<circle cx="294.7" cy="470.7" r="0.45" fill="#333"/>
<circle cx="299.1" cy="480.8" r="0.45" fill="#333"/>
<circle cx="310.8" cy="480.6" r="0.45" fill="#333"/>
<circle cx="315.3" cy="479.5" r="0.45" fill="#333"/>
<circle cx="291.8" cy="480.0" r="0.45" fill="#333"/>
<circle cx="302.5" cy="478.7" r="0.45" fill="#333"/>
<circle cx="308.4" cy="479.4" r="0.45" fill="#333"/>
<circle cx="297.2" cy="479.3" r="0.45" fill="#333"/>
<circle cx="315.5" cy="478.0" r="0.45" fill="#333"/>
<circle cx="300.4" cy="479.1" r="0.45" fill="#333"/>
<circle cx="296.2" cy="479.7" r="0.45" fill="#333"/>
<line x1="94.39999999999999" y1="482.3" x2="95.6" y2="482.3" stroke="#bbb" stroke-width="0.4"/>
<text x="94.19999999999999" y="483.1" font-size="2.4" font-weight="normal" font-style="normal" fill="#999" text-anchor="end">0</text>
<line x1="94.39999999999999" y1="467.12" x2="95.6" y2="467.12" stroke="#bbb" stroke-width="0.4"/>
<text x="94.19999999999999" y="467.92" font-size="2.4" font-weight="normal" font-style="normal" fill="#999" text-anchor="end">20</text>
<line x1="94.39999999999999" y1="451.94" x2="95.6" y2="451.94" stroke="#bbb" stroke-width="0.4"/>
<text x="94.19999999999999" y="452.74" font-size="2.4" font-weight="normal" font-style="normal" fill="#999" text-anchor="end">40</text>
<line x1="94.39999999999999" y1="436.76" x2="95.6" y2="436.76" stroke="#bbb" stroke-width="0.4"/>
<text x="94.19999999999999" y="437.56" font-size="2.4" font-weight="normal" font-style="normal" fill="#999" text-anchor="end">60</text>
<line x1="94.39999999999999" y1="421.58" x2="95.6" y2="421.58" stroke="#bbb" stroke-width="0.4"/>
<text x="94.19999999999999" y="422.38" font-size="2.4" font-weight="normal" font-style="normal" fill="#999" text-anchor="end">80</text>
<line x1="94.39999999999999" y1="406.4" x2="95.6" y2="406.4" stroke="#bbb" stroke-width="0.4"/>
<text x="94.19999999999999" y="407.2" font-size="2.4" font-weight="normal" font-style="normal" fill="#999" text-anchor="end">100</text>
<line x1="281.1" y1="481.0" x2="282.3" y2="481.0" stroke="#bbb" stroke-width="0.4"/>
<text x="280.90000000000003" y="481.8" font-size="2.4" font-weight="normal" font-style="normal" fill="#999" text-anchor="end">0</text>
<line x1="281.1" y1="465.84" x2="282.3" y2="465.84" stroke="#bbb" stroke-width="0.4"/>
<text x="280.90000000000003" y="466.64" font-size="2.4" font-weight="normal" font-style="normal" fill="#999" text-anchor="end">20</text>
<line x1="281.1" y1="450.68" x2="282.3" y2="450.68" stroke="#bbb" stroke-width="0.4"/>
<text x="280.90000000000003" y="451.48" font-size="2.4" font-weight="normal" font-style="normal" fill="#999" text-anchor="end">40</text>
<line x1="281.1" y1="435.52" x2="282.3" y2="435.52" stroke="#bbb" stroke-width="0.4"/>
<text x="280.90000000000003" y="436.32" font-size="2.4" font-weight="normal" font-style="normal" fill="#999" text-anchor="end">60</text>
<line x1="281.1" y1="420.36" x2="282.3" y2="420.36" stroke="#bbb" stroke-width="0.4"/>
<text x="280.90000000000003" y="421.16" font-size="2.4" font-weight="normal" font-style="normal" fill="#999" text-anchor="end">80</text>
<line x1="281.1" y1="405.2" x2="282.3" y2="405.2" stroke="#bbb" stroke-width="0.4"/>
<text x="280.90000000000003" y="406.0" font-size="2.4" font-weight="normal" font-style="normal" fill="#999" text-anchor="end">100</text>
<line x1="431.6" y1="477.7" x2="432.8" y2="477.7" stroke="#bbb" stroke-width="0.4"/>
<text x="431.40000000000003" y="478.5" font-size="2.4" font-weight="normal" font-style="normal" fill="#999" text-anchor="end">0</text>
<line x1="431.6" y1="462.58" x2="432.8" y2="462.58" stroke="#bbb" stroke-width="0.4"/>
<text x="431.40000000000003" y="463.38" font-size="2.4" font-weight="normal" font-style="normal" fill="#999" text-anchor="end">20</text>
<line x1="431.6" y1="447.46" x2="432.8" y2="447.46" stroke="#bbb" stroke-width="0.4"/>
<text x="431.40000000000003" y="448.26" font-size="2.4" font-weight="normal" font-style="normal" fill="#999" text-anchor="end">40</text>
<line x1="431.6" y1="432.34" x2="432.8" y2="432.34" stroke="#bbb" stroke-width="0.4"/>
<text x="431.40000000000003" y="433.14" font-size="2.4" font-weight="normal" font-style="normal" fill="#999" text-anchor="end">60</text>
<line x1="431.6" y1="417.22" x2="432.8" y2="417.22" stroke="#bbb" stroke-width="0.4"/>
<text x="431.40000000000003" y="418.02" font-size="2.4" font-weight="normal" font-style="normal" fill="#999" text-anchor="end">80</text>
<line x1="431.6" y1="402.1" x2="432.8" y2="402.1" stroke="#bbb" stroke-width="0.4"/>
<text x="431.40000000000003" y="402.9" font-size="2.4" font-weight="normal" font-style="normal" fill="#999" text-anchor="end">100</text>
<text x="369.8" y="372.7" font-size="11.5" font-weight="bold" font-style="normal" fill="#111" text-anchor="start" stroke="#111" stroke-width="0.35">E</text>
<text x="428.8" y="372.3" font-size="9.2" font-weight="bold" font-style="italic" fill="#111" text-anchor="start" textLength="27.8" lengthAdjust="spacingAndGlyphs" stroke="#111" stroke-width="0.15">RUNX1</text>
<rect x="505.60" y="369.40" width="11.50" height="2.60" fill="#000"/>
<rect x="504.60" y="376.20" width="13.40" height="2.40" fill="#e2168c"/>
<line x1="371.4" y1="383.8" x2="520" y2="383.8" stroke="#a8a8c8" stroke-width="1.0"/>
<line x1="371.4" y1="387" x2="458.5" y2="387" stroke="#a8a8c8" stroke-width="1.0"/>
<line x1="371.4" y1="390.5" x2="458.5" y2="390.5" stroke="#a8a8c8" stroke-width="1.0"/>
<rect x="370.90" y="382.00" width="2.60" height="9.90" fill="#252a78"/>
<rect x="456.20" y="382.90" width="2.30" height="9.00" fill="#252a78"/>
<rect x="458.50" y="386.10" width="22.10" height="1.60" fill="#252a78"/>
<rect x="458.50" y="389.50" width="22.10" height="1.60" fill="#252a78"/>
<text x="381" y="395.7" font-size="4.2" font-weight="bold" font-style="normal" fill="#111" text-anchor="start" textLength="12.0" lengthAdjust="spacingAndGlyphs" stroke="#111" stroke-width="0.15">NGCB</text>
<text x="402.2" y="395.7" font-size="4.2" font-weight="bold" font-style="normal" fill="#111" text-anchor="start" textLength="18.6" lengthAdjust="spacingAndGlyphs" stroke="#111" stroke-width="0.15">Cluster C</text>
<rect x="375.80" y="396.60" width="23.00" height="1.30" fill="#2bb4ba"/>
<rect x="398.80" y="396.60" width="23.00" height="1.30" fill="#7b6fb6"/>
<rect x="371.50" y="398.80" width="3.20" height="88.90" fill="#e0148c"/>
<rect x="375.80" y="398.00" width="5.75" height="4.08" fill="#4149a8" shape-rendering="crispEdges"/>
<rect x="381.55" y="398.00" width="5.75" height="4.08" fill="#4149a8" shape-rendering="crispEdges"/>
<rect x="387.30" y="398.00" width="5.75" height="4.08" fill="#6060a4" shape-rendering="crispEdges"/>
<rect x="393.05" y="398.00" width="5.75" height="4.08" fill="#6060a4" shape-rendering="crispEdges"/>
<rect x="398.80" y="398.00" width="5.75" height="4.08" fill="#f0e326" shape-rendering="crispEdges"/>
<rect x="404.55" y="398.00" width="5.75" height="4.08" fill="#e8232a" shape-rendering="crispEdges"/>
<rect x="410.30" y="398.00" width="5.75" height="4.08" fill="#76769a" shape-rendering="crispEdges"/>
<rect x="416.05" y="398.00" width="5.75" height="4.08" fill="#4149a8" shape-rendering="crispEdges"/>
<rect x="375.80" y="402.08" width="5.75" height="4.08" fill="#4149a8" shape-rendering="crispEdges"/>
<rect x="381.55" y="402.08" width="5.75" height="4.08" fill="#6060a4" shape-rendering="crispEdges"/>
<rect x="387.30" y="402.08" width="5.75" height="4.08" fill="#6060a4" shape-rendering="crispEdges"/>
<rect x="393.05" y="402.08" width="5.75" height="4.08" fill="#4149a8" shape-rendering="crispEdges"/>
<rect x="398.80" y="402.08" width="5.75" height="4.08" fill="#fbd016" shape-rendering="crispEdges"/>
<rect x="404.55" y="402.08" width="5.75" height="4.08" fill="#e8232a" shape-rendering="crispEdges"/>
<rect x="410.30" y="402.08" width="5.75" height="4.08" fill="#6060a4" shape-rendering="crispEdges"/>
<rect x="416.05" y="402.08" width="5.75" height="4.08" fill="#4149a8" shape-rendering="crispEdges"/>
<rect x="375.80" y="406.15" width="5.75" height="4.08" fill="#4149a8" shape-rendering="crispEdges"/>
<rect x="381.55" y="406.15" width="5.75" height="4.08" fill="#4149a8" shape-rendering="crispEdges"/>
<rect x="387.30" y="406.15" width="5.75" height="4.08" fill="#4149a8" shape-rendering="crispEdges"/>
<rect x="393.05" y="406.15" width="5.75" height="4.08" fill="#4149a8" shape-rendering="crispEdges"/>
<rect x="398.80" y="406.15" width="5.75" height="4.08" fill="#fbd016" shape-rendering="crispEdges"/>
<rect x="404.55" y="406.15" width="5.75" height="4.08" fill="#ec4427" shape-rendering="crispEdges"/>
<rect x="410.30" y="406.15" width="5.75" height="4.08" fill="#4149a8" shape-rendering="crispEdges"/>
<rect x="416.05" y="406.15" width="5.75" height="4.08" fill="#4149a8" shape-rendering="crispEdges"/>
<rect x="375.80" y="410.23" width="5.75" height="4.08" fill="#4149a8" shape-rendering="crispEdges"/>
<rect x="381.55" y="410.23" width="5.75" height="4.08" fill="#f0e326" shape-rendering="crispEdges"/>
<rect x="387.30" y="410.23" width="5.75" height="4.08" fill="#4149a8" shape-rendering="crispEdges"/>
<rect x="393.05" y="410.23" width="5.75" height="4.08" fill="#a09f60" shape-rendering="crispEdges"/>
<rect x="398.80" y="410.23" width="5.75" height="4.08" fill="#f0e326" shape-rendering="crispEdges"/>
<rect x="404.55" y="410.23" width="5.75" height="4.08" fill="#fbd016" shape-rendering="crispEdges"/>
<rect x="410.30" y="410.23" width="5.75" height="4.08" fill="#d6d23a" shape-rendering="crispEdges"/>
<rect x="416.05" y="410.23" width="5.75" height="4.08" fill="#4149a8" shape-rendering="crispEdges"/>
<rect x="375.80" y="414.31" width="5.75" height="4.08" fill="#4149a8" shape-rendering="crispEdges"/>
<rect x="381.55" y="414.31" width="5.75" height="4.08" fill="#76769a" shape-rendering="crispEdges"/>
<rect x="387.30" y="414.31" width="5.75" height="4.08" fill="#4149a8" shape-rendering="crispEdges"/>
<rect x="393.05" y="414.31" width="5.75" height="4.08" fill="#4149a8" shape-rendering="crispEdges"/>
<rect x="398.80" y="414.31" width="5.75" height="4.08" fill="#f9b41a" shape-rendering="crispEdges"/>
<rect x="404.55" y="414.31" width="5.75" height="4.08" fill="#e8232a" shape-rendering="crispEdges"/>
<rect x="410.30" y="414.31" width="5.75" height="4.08" fill="#fbd016" shape-rendering="crispEdges"/>
<rect x="416.05" y="414.31" width="5.75" height="4.08" fill="#6060a4" shape-rendering="crispEdges"/>
<rect x="375.80" y="418.39" width="5.75" height="4.08" fill="#4149a8" shape-rendering="crispEdges"/>
<rect x="381.55" y="418.39" width="5.75" height="4.08" fill="#76769a" shape-rendering="crispEdges"/>
<rect x="387.30" y="418.39" width="5.75" height="4.08" fill="#4149a8" shape-rendering="crispEdges"/>
<rect x="393.05" y="418.39" width="5.75" height="4.08" fill="#4149a8" shape-rendering="crispEdges"/>
<rect x="398.80" y="418.39" width="5.75" height="4.08" fill="#f6921e" shape-rendering="crispEdges"/>
<rect x="404.55" y="418.39" width="5.75" height="4.08" fill="#e8232a" shape-rendering="crispEdges"/>
<rect x="410.30" y="418.39" width="5.75" height="4.08" fill="#fbd016" shape-rendering="crispEdges"/>
<rect x="416.05" y="418.39" width="5.75" height="4.08" fill="#76769a" shape-rendering="crispEdges"/>
<rect x="375.80" y="422.46" width="5.75" height="4.08" fill="#4149a8" shape-rendering="crispEdges"/>
<rect x="381.55" y="422.46" width="5.75" height="4.08" fill="#76769a" shape-rendering="crispEdges"/>
<rect x="387.30" y="422.46" width="5.75" height="4.08" fill="#6060a4" shape-rendering="crispEdges"/>
<rect x="393.05" y="422.46" width="5.75" height="4.08" fill="#6060a4" shape-rendering="crispEdges"/>
<rect x="398.80" y="422.46" width="5.75" height="4.08" fill="#fbd016" shape-rendering="crispEdges"/>
<rect x="404.55" y="422.46" width="5.75" height="4.08" fill="#e8232a" shape-rendering="crispEdges"/>
<rect x="410.30" y="422.46" width="5.75" height="4.08" fill="#fbd016" shape-rendering="crispEdges"/>
<rect x="416.05" y="422.46" width="5.75" height="4.08" fill="#f0e326" shape-rendering="crispEdges"/>
<rect x="375.80" y="426.54" width="5.75" height="4.08" fill="#4149a8" shape-rendering="crispEdges"/>
<rect x="381.55" y="426.54" width="5.75" height="4.08" fill="#4149a8" shape-rendering="crispEdges"/>
<rect x="387.30" y="426.54" width="5.75" height="4.08" fill="#4149a8" shape-rendering="crispEdges"/>
<rect x="393.05" y="426.54" width="5.75" height="4.08" fill="#4149a8" shape-rendering="crispEdges"/>
<rect x="398.80" y="426.54" width="5.75" height="4.08" fill="#f0e326" shape-rendering="crispEdges"/>
<rect x="404.55" y="426.54" width="5.75" height="4.08" fill="#e8232a" shape-rendering="crispEdges"/>
<rect x="410.30" y="426.54" width="5.75" height="4.08" fill="#fbd016" shape-rendering="crispEdges"/>
<rect x="416.05" y="426.54" width="5.75" height="4.08" fill="#4149a8" shape-rendering="crispEdges"/>
<rect x="375.80" y="430.62" width="5.75" height="4.08" fill="#4149a8" shape-rendering="crispEdges"/>
<rect x="381.55" y="430.62" width="5.75" height="4.08" fill="#6060a4" shape-rendering="crispEdges"/>
<rect x="387.30" y="430.62" width="5.75" height="4.08" fill="#4149a8" shape-rendering="crispEdges"/>
<rect x="393.05" y="430.62" width="5.75" height="4.08" fill="#4149a8" shape-rendering="crispEdges"/>
<rect x="398.80" y="430.62" width="5.75" height="4.08" fill="#f15c24" shape-rendering="crispEdges"/>
<rect x="404.55" y="430.62" width="5.75" height="4.08" fill="#e8232a" shape-rendering="crispEdges"/>
<rect x="410.30" y="430.62" width="5.75" height="4.08" fill="#f0e326" shape-rendering="crispEdges"/>
<rect x="416.05" y="430.62" width="5.75" height="4.08" fill="#6060a4" shape-rendering="crispEdges"/>
<rect x="375.80" y="434.70" width="5.75" height="4.08" fill="#4149a8" shape-rendering="crispEdges"/>
<rect x="381.55" y="434.70" width="5.75" height="4.08" fill="#4149a8" shape-rendering="crispEdges"/>
<rect x="387.30" y="434.70" width="5.75" height="4.08" fill="#6060a4" shape-rendering="crispEdges"/>
<rect x="393.05" y="434.70" width="5.75" height="4.08" fill="#4149a8" shape-rendering="crispEdges"/>
<rect x="398.80" y="434.70" width="5.75" height="4.08" fill="#f6921e" shape-rendering="crispEdges"/>
<rect x="404.55" y="434.70" width="5.75" height="4.08" fill="#f15c24" shape-rendering="crispEdges"/>
<rect x="410.30" y="434.70" width="5.75" height="4.08" fill="#fbd016" shape-rendering="crispEdges"/>
<rect x="416.05" y="434.70" width="5.75" height="4.08" fill="#6060a4" shape-rendering="crispEdges"/>
<rect x="375.80" y="438.77" width="5.75" height="4.08" fill="#4149a8" shape-rendering="crispEdges"/>
<rect x="381.55" y="438.77" width="5.75" height="4.08" fill="#6060a4" shape-rendering="crispEdges"/>
<rect x="387.30" y="438.77" width="5.75" height="4.08" fill="#6060a4" shape-rendering="crispEdges"/>
<rect x="393.05" y="438.77" width="5.75" height="4.08" fill="#4149a8" shape-rendering="crispEdges"/>
<rect x="398.80" y="438.77" width="5.75" height="4.08" fill="#fbd016" shape-rendering="crispEdges"/>
<rect x="404.55" y="438.77" width="5.75" height="4.08" fill="#e8232a" shape-rendering="crispEdges"/>
<rect x="410.30" y="438.77" width="5.75" height="4.08" fill="#f0e326" shape-rendering="crispEdges"/>
<rect x="416.05" y="438.77" width="5.75" height="4.08" fill="#a09f60" shape-rendering="crispEdges"/>
<rect x="375.80" y="442.85" width="5.75" height="4.08" fill="#4149a8" shape-rendering="crispEdges"/>
<rect x="381.55" y="442.85" width="5.75" height="4.08" fill="#6060a4" shape-rendering="crispEdges"/>
<rect x="387.30" y="442.85" width="5.75" height="4.08" fill="#6060a4" shape-rendering="crispEdges"/>
<rect x="393.05" y="442.85" width="5.75" height="4.08" fill="#4149a8" shape-rendering="crispEdges"/>
<rect x="398.80" y="442.85" width="5.75" height="4.08" fill="#f6921e" shape-rendering="crispEdges"/>
<rect x="404.55" y="442.85" width="5.75" height="4.08" fill="#f6921e" shape-rendering="crispEdges"/>
<rect x="410.30" y="442.85" width="5.75" height="4.08" fill="#f6921e" shape-rendering="crispEdges"/>
<rect x="416.05" y="442.85" width="5.75" height="4.08" fill="#4149a8" shape-rendering="crispEdges"/>
<rect x="375.80" y="446.93" width="5.75" height="4.08" fill="#4149a8" shape-rendering="crispEdges"/>
<rect x="381.55" y="446.93" width="5.75" height="4.08" fill="#6060a4" shape-rendering="crispEdges"/>
<rect x="387.30" y="446.93" width="5.75" height="4.08" fill="#6060a4" shape-rendering="crispEdges"/>
<rect x="393.05" y="446.93" width="5.75" height="4.08" fill="#f0e326" shape-rendering="crispEdges"/>
<rect x="398.80" y="446.93" width="5.75" height="4.08" fill="#f15c24" shape-rendering="crispEdges"/>
<rect x="404.55" y="446.93" width="5.75" height="4.08" fill="#e8232a" shape-rendering="crispEdges"/>
<rect x="410.30" y="446.93" width="5.75" height="4.08" fill="#f6921e" shape-rendering="crispEdges"/>
<rect x="416.05" y="446.93" width="5.75" height="4.08" fill="#6060a4" shape-rendering="crispEdges"/>
<rect x="375.80" y="451.00" width="5.75" height="4.08" fill="#4149a8" shape-rendering="crispEdges"/>
<rect x="381.55" y="451.00" width="5.75" height="4.08" fill="#6060a4" shape-rendering="crispEdges"/>
<rect x="387.30" y="451.00" width="5.75" height="4.08" fill="#4149a8" shape-rendering="crispEdges"/>
<rect x="393.05" y="451.00" width="5.75" height="4.08" fill="#76769a" shape-rendering="crispEdges"/>
<rect x="398.80" y="451.00" width="5.75" height="4.08" fill="#f15c24" shape-rendering="crispEdges"/>
<rect x="404.55" y="451.00" width="5.75" height="4.08" fill="#e8232a" shape-rendering="crispEdges"/>
<rect x="410.30" y="451.00" width="5.75" height="4.08" fill="#f9b41a" shape-rendering="crispEdges"/>
<rect x="416.05" y="451.00" width="5.75" height="4.08" fill="#6060a4" shape-rendering="crispEdges"/>
<rect x="375.80" y="455.08" width="5.75" height="4.08" fill="#4149a8" shape-rendering="crispEdges"/>
<rect x="381.55" y="455.08" width="5.75" height="4.08" fill="#6060a4" shape-rendering="crispEdges"/>
<rect x="387.30" y="455.08" width="5.75" height="4.08" fill="#6060a4" shape-rendering="crispEdges"/>
<rect x="393.05" y="455.08" width="5.75" height="4.08" fill="#4149a8" shape-rendering="crispEdges"/>
<rect x="398.80" y="455.08" width="5.75" height="4.08" fill="#fbd016" shape-rendering="crispEdges"/>
<rect x="404.55" y="455.08" width="5.75" height="4.08" fill="#f6921e" shape-rendering="crispEdges"/>
<rect x="410.30" y="455.08" width="5.75" height="4.08" fill="#f0e326" shape-rendering="crispEdges"/>
<rect x="416.05" y="455.08" width="5.75" height="4.08" fill="#6060a4" shape-rendering="crispEdges"/>
<rect x="375.80" y="459.16" width="5.75" height="4.08" fill="#4149a8" shape-rendering="crispEdges"/>
<rect x="381.55" y="459.16" width="5.75" height="4.08" fill="#76769a" shape-rendering="crispEdges"/>
<rect x="387.30" y="459.16" width="5.75" height="4.08" fill="#6060a4" shape-rendering="crispEdges"/>
<rect x="393.05" y="459.16" width="5.75" height="4.08" fill="#a09f60" shape-rendering="crispEdges"/>
<rect x="398.80" y="459.16" width="5.75" height="4.08" fill="#f6921e" shape-rendering="crispEdges"/>
<rect x="404.55" y="459.16" width="5.75" height="4.08" fill="#e8232a" shape-rendering="crispEdges"/>
<rect x="410.30" y="459.16" width="5.75" height="4.08" fill="#fbd016" shape-rendering="crispEdges"/>
<rect x="416.05" y="459.16" width="5.75" height="4.08" fill="#76769a" shape-rendering="crispEdges"/>
<rect x="375.80" y="463.24" width="5.75" height="4.08" fill="#4149a8" shape-rendering="crispEdges"/>
<rect x="381.55" y="463.24" width="5.75" height="4.08" fill="#4149a8" shape-rendering="crispEdges"/>
<rect x="387.30" y="463.24" width="5.75" height="4.08" fill="#4149a8" shape-rendering="crispEdges"/>
<rect x="393.05" y="463.24" width="5.75" height="4.08" fill="#76769a" shape-rendering="crispEdges"/>
<rect x="398.80" y="463.24" width="5.75" height="4.08" fill="#f6921e" shape-rendering="crispEdges"/>
<rect x="404.55" y="463.24" width="5.75" height="4.08" fill="#e8232a" shape-rendering="crispEdges"/>
<rect x="410.30" y="463.24" width="5.75" height="4.08" fill="#f6921e" shape-rendering="crispEdges"/>
<rect x="416.05" y="463.24" width="5.75" height="4.08" fill="#6060a4" shape-rendering="crispEdges"/>
<rect x="375.80" y="467.31" width="5.75" height="4.08" fill="#4149a8" shape-rendering="crispEdges"/>
<rect x="381.55" y="467.31" width="5.75" height="4.08" fill="#6060a4" shape-rendering="crispEdges"/>
<rect x="387.30" y="467.31" width="5.75" height="4.08" fill="#6060a4" shape-rendering="crispEdges"/>
<rect x="393.05" y="467.31" width="5.75" height="4.08" fill="#a09f60" shape-rendering="crispEdges"/>
<rect x="398.80" y="467.31" width="5.75" height="4.08" fill="#f6921e" shape-rendering="crispEdges"/>
<rect x="404.55" y="467.31" width="5.75" height="4.08" fill="#f15c24" shape-rendering="crispEdges"/>
<rect x="410.30" y="467.31" width="5.75" height="4.08" fill="#f9b41a" shape-rendering="crispEdges"/>
<rect x="416.05" y="467.31" width="5.75" height="4.08" fill="#6060a4" shape-rendering="crispEdges"/>
<rect x="375.80" y="471.39" width="5.75" height="4.08" fill="#4149a8" shape-rendering="crispEdges"/>
<rect x="381.55" y="471.39" width="5.75" height="4.08" fill="#a09f60" shape-rendering="crispEdges"/>
<rect x="387.30" y="471.39" width="5.75" height="4.08" fill="#a09f60" shape-rendering="crispEdges"/>
<rect x="393.05" y="471.39" width="5.75" height="4.08" fill="#4149a8" shape-rendering="crispEdges"/>
<rect x="398.80" y="471.39" width="5.75" height="4.08" fill="#f6921e" shape-rendering="crispEdges"/>
<rect x="404.55" y="471.39" width="5.75" height="4.08" fill="#e8232a" shape-rendering="crispEdges"/>
<rect x="410.30" y="471.39" width="5.75" height="4.08" fill="#e8232a" shape-rendering="crispEdges"/>
<rect x="416.05" y="471.39" width="5.75" height="4.08" fill="#76769a" shape-rendering="crispEdges"/>
<rect x="375.80" y="475.47" width="5.75" height="4.08" fill="#4149a8" shape-rendering="crispEdges"/>
<rect x="381.55" y="475.47" width="5.75" height="4.08" fill="#a09f60" shape-rendering="crispEdges"/>
<rect x="387.30" y="475.47" width="5.75" height="4.08" fill="#a09f60" shape-rendering="crispEdges"/>
<rect x="393.05" y="475.47" width="5.75" height="4.08" fill="#f0e326" shape-rendering="crispEdges"/>
<rect x="398.80" y="475.47" width="5.75" height="4.08" fill="#f6921e" shape-rendering="crispEdges"/>
<rect x="404.55" y="475.47" width="5.75" height="4.08" fill="#e8232a" shape-rendering="crispEdges"/>
<rect x="410.30" y="475.47" width="5.75" height="4.08" fill="#e8232a" shape-rendering="crispEdges"/>
<rect x="416.05" y="475.47" width="5.75" height="4.08" fill="#6060a4" shape-rendering="crispEdges"/>
<rect x="375.80" y="479.55" width="5.75" height="4.08" fill="#4149a8" shape-rendering="crispEdges"/>
<rect x="381.55" y="479.55" width="5.75" height="4.08" fill="#a09f60" shape-rendering="crispEdges"/>
<rect x="387.30" y="479.55" width="5.75" height="4.08" fill="#6060a4" shape-rendering="crispEdges"/>
<rect x="393.05" y="479.55" width="5.75" height="4.08" fill="#a09f60" shape-rendering="crispEdges"/>
<rect x="398.80" y="479.55" width="5.75" height="4.08" fill="#f15c24" shape-rendering="crispEdges"/>
<rect x="404.55" y="479.55" width="5.75" height="4.08" fill="#e8232a" shape-rendering="crispEdges"/>
<rect x="410.30" y="479.55" width="5.75" height="4.08" fill="#e8232a" shape-rendering="crispEdges"/>
<rect x="416.05" y="479.55" width="5.75" height="4.08" fill="#6060a4" shape-rendering="crispEdges"/>
<rect x="375.80" y="483.62" width="5.75" height="4.08" fill="#4149a8" shape-rendering="crispEdges"/>
<rect x="381.55" y="483.62" width="5.75" height="4.08" fill="#a09f60" shape-rendering="crispEdges"/>
<rect x="387.30" y="483.62" width="5.75" height="4.08" fill="#d6d23a" shape-rendering="crispEdges"/>
<rect x="393.05" y="483.62" width="5.75" height="4.08" fill="#d6d23a" shape-rendering="crispEdges"/>
<rect x="398.80" y="483.62" width="5.75" height="4.08" fill="#e8232a" shape-rendering="crispEdges"/>
<rect x="404.55" y="483.62" width="5.75" height="4.08" fill="#e8232a" shape-rendering="crispEdges"/>
<rect x="410.30" y="483.62" width="5.75" height="4.08" fill="#e8232a" shape-rendering="crispEdges"/>
<rect x="416.05" y="483.62" width="5.75" height="4.08" fill="#a09f60" shape-rendering="crispEdges"/>
<line x1="381.55" y1="398.0" x2="381.55" y2="487.7" stroke="rgba(255,255,255,0.22)" stroke-width="0.35"/>
<line x1="387.3" y1="398.0" x2="387.3" y2="487.7" stroke="rgba(255,255,255,0.22)" stroke-width="0.35"/>
<line x1="393.05" y1="398.0" x2="393.05" y2="487.7" stroke="rgba(255,255,255,0.22)" stroke-width="0.35"/>
<line x1="398.8" y1="398.0" x2="398.8" y2="487.7" stroke="rgba(255,255,255,0.22)" stroke-width="0.35"/>
<line x1="404.55" y1="398.0" x2="404.55" y2="487.7" stroke="rgba(255,255,255,0.22)" stroke-width="0.35"/>
<line x1="410.3" y1="398.0" x2="410.3" y2="487.7" stroke="rgba(255,255,255,0.22)" stroke-width="0.35"/>
<line x1="416.05" y1="398.0" x2="416.05" y2="487.7" stroke="rgba(255,255,255,0.22)" stroke-width="0.35"/>
<line x1="375.8" y1="402.08" x2="421.8" y2="402.08" stroke="rgba(255,255,255,0.22)" stroke-width="0.35"/>
<line x1="375.8" y1="406.15" x2="421.8" y2="406.15" stroke="rgba(255,255,255,0.22)" stroke-width="0.35"/>
<line x1="375.8" y1="410.23" x2="421.8" y2="410.23" stroke="rgba(255,255,255,0.22)" stroke-width="0.35"/>
<line x1="375.8" y1="414.31" x2="421.8" y2="414.31" stroke="rgba(255,255,255,0.22)" stroke-width="0.35"/>
<line x1="375.8" y1="418.39" x2="421.8" y2="418.39" stroke="rgba(255,255,255,0.22)" stroke-width="0.35"/>
<line x1="375.8" y1="422.46" x2="421.8" y2="422.46" stroke="rgba(255,255,255,0.22)" stroke-width="0.35"/>
<line x1="375.8" y1="426.54" x2="421.8" y2="426.54" stroke="rgba(255,255,255,0.22)" stroke-width="0.35"/>
<line x1="375.8" y1="430.62" x2="421.8" y2="430.62" stroke="rgba(255,255,255,0.22)" stroke-width="0.35"/>
<line x1="375.8" y1="434.7" x2="421.8" y2="434.7" stroke="rgba(255,255,255,0.22)" stroke-width="0.35"/>
<line x1="375.8" y1="438.77" x2="421.8" y2="438.77" stroke="rgba(255,255,255,0.22)" stroke-width="0.35"/>
<line x1="375.8" y1="442.85" x2="421.8" y2="442.85" stroke="rgba(255,255,255,0.22)" stroke-width="0.35"/>
<line x1="375.8" y1="446.93" x2="421.8" y2="446.93" stroke="rgba(255,255,255,0.22)" stroke-width="0.35"/>
<line x1="375.8" y1="451.0" x2="421.8" y2="451.0" stroke="rgba(255,255,255,0.22)" stroke-width="0.35"/>
<line x1="375.8" y1="455.08" x2="421.8" y2="455.08" stroke="rgba(255,255,255,0.22)" stroke-width="0.35"/>
<line x1="375.8" y1="459.16" x2="421.8" y2="459.16" stroke="rgba(255,255,255,0.22)" stroke-width="0.35"/>
<line x1="375.8" y1="463.24" x2="421.8" y2="463.24" stroke="rgba(255,255,255,0.22)" stroke-width="0.35"/>
<line x1="375.8" y1="467.31" x2="421.8" y2="467.31" stroke="rgba(255,255,255,0.22)" stroke-width="0.35"/>
<line x1="375.8" y1="471.39" x2="421.8" y2="471.39" stroke="rgba(255,255,255,0.22)" stroke-width="0.35"/>
<line x1="375.8" y1="475.47" x2="421.8" y2="475.47" stroke="rgba(255,255,255,0.22)" stroke-width="0.35"/>
<line x1="375.8" y1="479.55" x2="421.8" y2="479.55" stroke="rgba(255,255,255,0.22)" stroke-width="0.35"/>
<line x1="375.8" y1="483.62" x2="421.8" y2="483.62" stroke="rgba(255,255,255,0.22)" stroke-width="0.35"/>
<rect x="432.8" y="398.6" width="79.9" height="82.2" fill="none" stroke="#e2e2e2" stroke-width="0.7"/>
<text x="430.4" y="460.7" font-size="5.6" font-weight="bold" font-style="normal" fill="#111" text-anchor="start" textLength="41.4" lengthAdjust="spacingAndGlyphs" transform="rotate(-90 430.4 460.7)" stroke="#111" stroke-width="0.15">Methylation Rate (%)</text>
<text x="455.7" y="485.9" font-size="4.2" font-weight="bold" font-style="normal" fill="#333" text-anchor="middle" textLength="12.3" lengthAdjust="spacingAndGlyphs">NGCB</text>
<text x="491.5" y="485.9" font-size="4.2" font-weight="bold" font-style="normal" fill="#333" text-anchor="middle">C</text>
<line x1="455.2" y1="441.5" x2="455.2" y2="477.4" stroke="#aaa" stroke-width="0.7"/>
<line x1="491.9" y1="403.1" x2="491.9" y2="473.1" stroke="#aaa" stroke-width="0.7"/>
<polygon points="477.70,414.20 477.70,424.50 482.50,430.40 477.70,436.40 477.70,455.70 505.50,455.70 505.50,436.40 501.30,430.40 505.50,424.50 505.50,414.20" fill="#7a6cb9" stroke="#5b4f98" stroke-width="0.7"/>
<line x1="482.5" y1="430.4" x2="501.3" y2="430.4" stroke="#333" stroke-width="0.8"/>
<polygon points="441.30,459.00 441.30,461.50 445.00,463.80 441.30,466.00 441.30,469.30 469.30,469.30 469.30,466.00 465.60,463.80 469.30,461.50 469.30,459.00" fill="#22b6ae" stroke="#1a8f88" stroke-width="0.7"/>
<line x1="445.0" y1="463.8" x2="465.6" y2="463.8" stroke="#1b7f7a" stroke-width="0.8"/>
<circle cx="485.7" cy="410.2" r="0.45" fill="#333"/>
<circle cx="496.8" cy="412.2" r="0.45" fill="#333"/>
<circle cx="483.8" cy="404.8" r="0.45" fill="#333"/>
<circle cx="482.8" cy="404.7" r="0.45" fill="#333"/>
<circle cx="498.1" cy="403.6" r="0.45" fill="#333"/>
<circle cx="492.8" cy="404.6" r="0.45" fill="#333"/>
<circle cx="486.7" cy="407.2" r="0.45" fill="#333"/>
<circle cx="500.8" cy="409.3" r="0.45" fill="#333"/>
<circle cx="479.4" cy="405.3" r="0.45" fill="#333"/>
<circle cx="482.8" cy="412.5" r="0.45" fill="#333"/>
<circle cx="500.1" cy="411.7" r="0.45" fill="#333"/>
<circle cx="500.5" cy="410.9" r="0.45" fill="#333"/>
<circle cx="503.7" cy="411.5" r="0.45" fill="#333"/>
<circle cx="485.7" cy="412.2" r="0.45" fill="#333"/>
<circle cx="491.7" cy="411.1" r="0.45" fill="#333"/>
<circle cx="493.7" cy="407.2" r="0.45" fill="#333"/>
<circle cx="488.5" cy="407.2" r="0.45" fill="#333"/>
<circle cx="487.2" cy="403.4" r="0.45" fill="#333"/>
<circle cx="500.3" cy="411.6" r="0.45" fill="#333"/>
<circle cx="504.6" cy="410.3" r="0.45" fill="#333"/>
<circle cx="493.4" cy="411.0" r="0.45" fill="#333"/>
<circle cx="482.5" cy="410.1" r="0.45" fill="#333"/>
<circle cx="490.5" cy="404.1" r="0.45" fill="#333"/>
<circle cx="484.3" cy="408.3" r="0.45" fill="#333"/>
<circle cx="485.6" cy="407.5" r="0.45" fill="#333"/>
<circle cx="494.7" cy="406.7" r="0.45" fill="#333"/>
<circle cx="482.4" cy="407.9" r="0.45" fill="#333"/>
<circle cx="485.1" cy="404.8" r="0.45" fill="#333"/>
<circle cx="483.9" cy="429.7" r="0.45" fill="#333"/>
<circle cx="480.8" cy="441.0" r="0.45" fill="#333"/>
<circle cx="502.8" cy="430.6" r="0.45" fill="#333"/>
<circle cx="497.0" cy="452.3" r="0.45" fill="#333"/>
<circle cx="480.1" cy="420.7" r="0.45" fill="#333"/>
<circle cx="499.2" cy="448.5" r="0.45" fill="#333"/>
<circle cx="495.0" cy="421.4" r="0.45" fill="#333"/>
<circle cx="489.3" cy="449.7" r="0.45" fill="#333"/>
<circle cx="501.2" cy="447.1" r="0.45" fill="#333"/>
<circle cx="484.1" cy="449.1" r="0.45" fill="#333"/>
<circle cx="488.4" cy="443.7" r="0.45" fill="#333"/>
<circle cx="482.4" cy="453.9" r="0.45" fill="#333"/>
<circle cx="494.1" cy="443.9" r="0.45" fill="#333"/>
<circle cx="484.3" cy="439.7" r="0.45" fill="#333"/>
<circle cx="493.5" cy="438.6" r="0.45" fill="#333"/>
<circle cx="488.0" cy="444.1" r="0.45" fill="#333"/>
<circle cx="487.5" cy="426.8" r="0.45" fill="#333"/>
<circle cx="483.1" cy="442.4" r="0.45" fill="#333"/>
<circle cx="481.8" cy="424.0" r="0.45" fill="#333"/>
<circle cx="480.7" cy="440.7" r="0.45" fill="#333"/>
<circle cx="492.9" cy="436.7" r="0.45" fill="#333"/>
<circle cx="480.0" cy="432.6" r="0.45" fill="#333"/>
<circle cx="487.6" cy="418.7" r="0.45" fill="#333"/>
<circle cx="479.1" cy="454.9" r="0.45" fill="#333"/>
<circle cx="482.0" cy="427.1" r="0.45" fill="#333"/>
<circle cx="485.7" cy="438.9" r="0.45" fill="#333"/>
<circle cx="480.9" cy="433.8" r="0.45" fill="#333"/>
<circle cx="488.2" cy="448.4" r="0.45" fill="#333"/>
<circle cx="479.1" cy="428.4" r="0.45" fill="#333"/>
<circle cx="491.4" cy="453.8" r="0.45" fill="#333"/>
<circle cx="491.5" cy="463.6" r="0.45" fill="#333"/>
<circle cx="495.7" cy="460.7" r="0.45" fill="#333"/>
<circle cx="477.9" cy="464.0" r="0.45" fill="#333"/>
<circle cx="502.5" cy="467.8" r="0.45" fill="#333"/>
<circle cx="484.2" cy="466.9" r="0.45" fill="#333"/>
<circle cx="500.8" cy="460.1" r="0.45" fill="#333"/>
<circle cx="493.5" cy="461.7" r="0.45" fill="#333"/>
<circle cx="483.8" cy="460.6" r="0.45" fill="#333"/>
<circle cx="482.7" cy="461.6" r="0.45" fill="#333"/>
<circle cx="478.1" cy="462.4" r="0.45" fill="#333"/>
<circle cx="479.4" cy="468.1" r="0.45" fill="#333"/>
<circle cx="493.8" cy="456.1" r="0.45" fill="#333"/>
<circle cx="498.7" cy="459.0" r="0.45" fill="#333"/>
<circle cx="490.5" cy="464.9" r="0.45" fill="#333"/>
<circle cx="486.3" cy="460.6" r="0.45" fill="#333"/>
<circle cx="489.2" cy="458.2" r="0.45" fill="#333"/>
<circle cx="501.2" cy="457.8" r="0.45" fill="#333"/>
<circle cx="500.1" cy="459.5" r="0.45" fill="#333"/>
<circle cx="485.5" cy="462.2" r="0.45" fill="#333"/>
<circle cx="477.9" cy="458.1" r="0.45" fill="#333"/>
<circle cx="487.1" cy="463.1" r="0.45" fill="#333"/>
<circle cx="501.5" cy="471.8" r="0.45" fill="#333"/>
<circle cx="444.1" cy="450.6" r="0.45" fill="#333"/>
<circle cx="446.2" cy="455.5" r="0.45" fill="#333"/>
<circle cx="451.1" cy="457.1" r="0.45" fill="#333"/>
<circle cx="456.6" cy="443.3" r="0.45" fill="#333"/>
<circle cx="443.1" cy="445.5" r="0.45" fill="#333"/>
<circle cx="464.7" cy="443.7" r="0.45" fill="#333"/>
<circle cx="455.0" cy="447.7" r="0.45" fill="#333"/>
<circle cx="451.6" cy="455.4" r="0.45" fill="#333"/>
<circle cx="448.3" cy="453.9" r="0.45" fill="#333"/>
<circle cx="459.7" cy="457.8" r="0.45" fill="#333"/>
<circle cx="456.0" cy="457.6" r="0.45" fill="#333"/>
<circle cx="454.0" cy="451.3" r="0.45" fill="#333"/>
<circle cx="458.5" cy="456.1" r="0.45" fill="#333"/>
<circle cx="465.4" cy="443.1" r="0.45" fill="#333"/>
<circle cx="446.4" cy="450.6" r="0.45" fill="#333"/>
<circle cx="463.3" cy="450.6" r="0.45" fill="#333"/>
<circle cx="450.5" cy="458.3" r="0.45" fill="#333"/>
<circle cx="450.4" cy="442.6" r="0.45" fill="#333"/>
<circle cx="444.3" cy="441.5" r="0.45" fill="#333"/>
<circle cx="461.2" cy="442.9" r="0.45" fill="#333"/>
<circle cx="460.9" cy="456.6" r="0.45" fill="#333"/>
<circle cx="468.0" cy="455.6" r="0.45" fill="#333"/>
<circle cx="453.5" cy="465.8" r="0.45" fill="#333"/>
<circle cx="464.5" cy="466.9" r="0.45" fill="#333"/>
<circle cx="449.8" cy="467.4" r="0.45" fill="#333"/>
<circle cx="445.0" cy="462.4" r="0.45" fill="#333"/>
<circle cx="468.9" cy="464.2" r="0.45" fill="#333"/>
<circle cx="449.2" cy="467.6" r="0.45" fill="#333"/>
<circle cx="454.2" cy="459.0" r="0.45" fill="#333"/>
<circle cx="442.8" cy="461.8" r="0.45" fill="#333"/>
<circle cx="451.0" cy="469.3" r="0.45" fill="#333"/>
<circle cx="448.7" cy="468.4" r="0.45" fill="#333"/>
<circle cx="465.0" cy="463.6" r="0.45" fill="#333"/>
<circle cx="468.8" cy="467.4" r="0.45" fill="#333"/>
<circle cx="455.1" cy="461.9" r="0.45" fill="#333"/>
<circle cx="454.4" cy="468.9" r="0.45" fill="#333"/>
<circle cx="456.5" cy="461.1" r="0.45" fill="#333"/>
<circle cx="452.1" cy="464.2" r="0.45" fill="#333"/>
<circle cx="447.1" cy="465.3" r="0.45" fill="#333"/>
<circle cx="442.9" cy="468.0" r="0.45" fill="#333"/>
<circle cx="446.8" cy="460.1" r="0.45" fill="#333"/>
<circle cx="457.9" cy="462.4" r="0.45" fill="#333"/>
<circle cx="465.9" cy="464.5" r="0.45" fill="#333"/>
<circle cx="456.1" cy="468.2" r="0.45" fill="#333"/>
<circle cx="447.8" cy="467.2" r="0.45" fill="#333"/>
<circle cx="459.5" cy="463.7" r="0.45" fill="#333"/>
<circle cx="467.9" cy="459.2" r="0.45" fill="#333"/>
<circle cx="465.3" cy="460.6" r="0.45" fill="#333"/>
<circle cx="464.7" cy="460.7" r="0.45" fill="#333"/>
<circle cx="443.4" cy="464.5" r="0.45" fill="#333"/>
<circle cx="467.0" cy="461.8" r="0.45" fill="#333"/>
<circle cx="455.1" cy="465.7" r="0.45" fill="#333"/>
<circle cx="448.6" cy="474.2" r="0.45" fill="#333"/>
<circle cx="442.3" cy="473.6" r="0.45" fill="#333"/>
<circle cx="462.5" cy="472.7" r="0.45" fill="#333"/>
<circle cx="448.0" cy="470.4" r="0.45" fill="#333"/>
<circle cx="460.9" cy="473.4" r="0.45" fill="#333"/>
<circle cx="466.7" cy="475.9" r="0.45" fill="#333"/>
<circle cx="444.7" cy="477.3" r="0.45" fill="#333"/>
<circle cx="467.2" cy="476.5" r="0.45" fill="#333"/>
<circle cx="464.4" cy="475.5" r="0.45" fill="#333"/>
<circle cx="461.5" cy="475.3" r="0.45" fill="#333"/>
<circle cx="457.9" cy="472.1" r="0.45" fill="#333"/>
<circle cx="445.6" cy="475.8" r="0.45" fill="#333"/>
<circle cx="458.1" cy="470.5" r="0.45" fill="#333"/>
<circle cx="459.3" cy="474.9" r="0.45" fill="#333"/>
<circle cx="455.8" cy="476.2" r="0.45" fill="#333"/>
<circle cx="465.7" cy="473.0" r="0.45" fill="#333"/>
<circle cx="464.0" cy="474.0" r="0.45" fill="#333"/>
<circle cx="457.4" cy="473.3" r="0.45" fill="#333"/>
<circle cx="467.2" cy="473.6" r="0.45" fill="#333"/>
<circle cx="467.7" cy="472.7" r="0.45" fill="#333"/>
</svg>
</body></html>
